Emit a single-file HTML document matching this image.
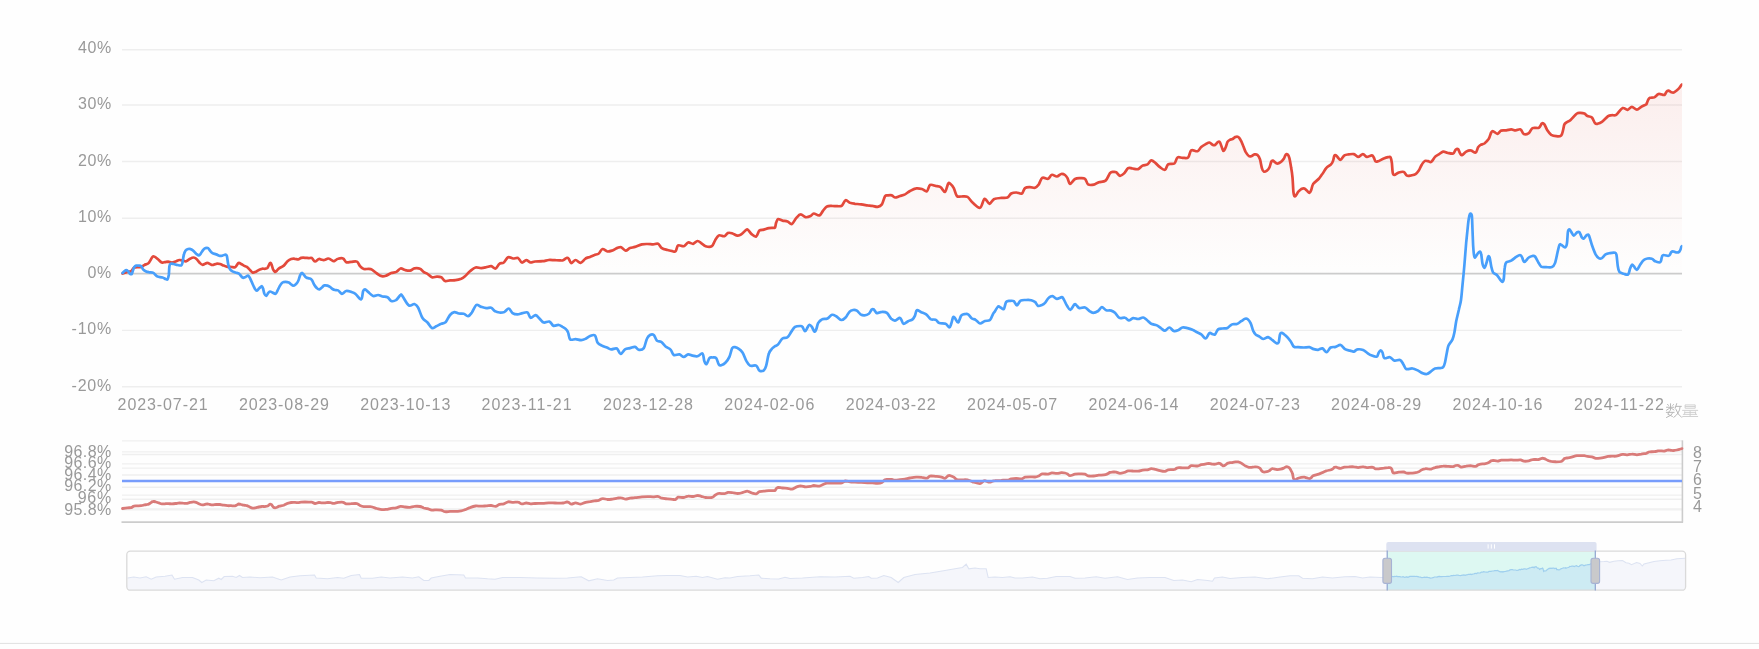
<!DOCTYPE html>
<html><head><meta charset="utf-8"><title>chart</title>
<style>
html,body{margin:0;padding:0;background:#fefefe;}
body{width:1759px;height:649px;overflow:hidden;font-family:"Liberation Sans",sans-serif;}
svg{display:block}
svg g.t{filter:grayscale(1)}
svg text{font-family:"Liberation Sans",sans-serif;font-size:16px;fill:#999999}
</style></head><body>
<svg width="1759" height="649" viewBox="0 0 1759 649">
<defs>
<linearGradient id="rg" x1="0" y1="85" x2="0" y2="280" gradientUnits="userSpaceOnUse">
<stop offset="0" stop-color="#e0483a" stop-opacity="0.088"/><stop offset="1" stop-color="#e0483a" stop-opacity="0"/></linearGradient>
<clipPath id="gc"><rect x="120.6" y="40" width="1561.7" height="350"/></clipPath>
</defs>
<rect x="0" y="0" width="1759" height="649" fill="#fefefe"/>
<g stroke="#eeeeee" stroke-width="1.4">
<line x1="122.0" y1="49.7" x2="1682.0" y2="49.7"/>
<line x1="122.0" y1="105.0" x2="1682.0" y2="105.0"/>
<line x1="122.0" y1="161.5" x2="1682.0" y2="161.5"/>
<line x1="122.0" y1="218.3" x2="1682.0" y2="218.3"/>
<line x1="122.0" y1="330.4" x2="1682.0" y2="330.4"/>
<line x1="122.0" y1="386.8" x2="1682.0" y2="386.8"/>
</g>
<path fill="url(#rg)" d="M122.0,273.6L122.5,273.5C123.3,273.2 126.0,272.3 127.5,271.9C129.0,271.5 130.2,271.9 131.2,271.2C132.3,270.6 132.8,268.4 133.8,267.8C134.7,267.1 135.6,267.4 136.9,267.2C138.1,267.1 140.0,267.3 141.2,266.9C142.5,266.5 143.2,265.6 144.4,265.0C145.5,264.4 147.1,264.3 148.1,263.5C149.2,262.7 149.9,261.1 150.6,260.0C151.3,258.9 151.9,257.5 152.5,256.9C153.1,256.3 153.4,256.4 154.0,256.5C154.6,256.6 155.5,257.2 156.2,257.8C157.0,258.3 157.8,259.2 158.8,260.0C159.7,260.8 160.8,262.1 161.9,262.5C162.9,262.9 164.0,262.3 165.0,262.1C166.0,262.0 167.0,261.6 168.1,261.6C169.3,261.7 170.6,262.5 171.9,262.5C173.1,262.5 174.4,261.9 175.6,261.5C176.9,261.1 178.1,260.1 179.4,260.0C180.6,259.9 182.0,260.4 183.1,260.6C184.3,260.8 185.1,261.6 186.2,261.2C187.4,260.9 188.8,259.4 190.0,258.8C191.2,258.1 192.7,257.5 193.8,257.5C194.8,257.5 195.2,257.8 196.2,258.8C197.3,259.7 199.0,262.1 200.0,263.1C201.0,264.1 201.7,264.6 202.5,264.8C203.3,264.9 204.2,264.1 205.0,263.8C205.8,263.4 206.7,262.7 207.5,262.8C208.3,262.8 209.2,263.6 210.0,264.0C210.8,264.4 211.5,265.0 212.5,265.0C213.5,265.0 215.0,263.9 216.2,263.8C217.5,263.6 218.8,263.7 220.0,264.0C221.2,264.3 222.5,265.1 223.8,265.6C225.0,266.1 226.2,266.7 227.5,266.9C228.8,267.1 230.0,266.8 231.2,266.9C232.5,266.9 234.1,267.6 235.0,267.2C235.9,266.9 236.3,265.8 236.9,265.0C237.5,264.2 238.0,262.9 238.8,262.8C239.5,262.6 240.4,263.5 241.2,264.0C242.1,264.5 242.8,265.1 243.8,265.6C244.7,266.1 245.9,266.3 246.9,266.9C247.8,267.5 248.4,268.4 249.4,269.4C250.3,270.3 251.5,272.1 252.5,272.5C253.5,272.9 254.6,272.3 255.6,271.9C256.7,271.5 257.7,270.5 258.8,270.0C259.8,269.5 260.8,269.0 261.9,268.8C262.9,268.5 264.1,268.9 265.0,268.8C265.9,268.6 266.7,268.7 267.5,267.8C268.3,266.8 269.3,263.7 270.0,263.1C270.7,262.6 271.0,263.3 271.5,264.4C272.0,265.4 272.5,268.1 273.1,269.4C273.7,270.6 274.4,271.7 275.0,271.9C275.6,272.1 276.1,271.2 276.9,270.6C277.6,270.0 278.2,269.0 279.4,268.1C280.5,267.3 282.4,266.8 283.8,265.6C285.1,264.5 286.2,262.4 287.5,261.2C288.8,260.1 290.0,259.4 291.2,259.0C292.5,258.6 293.9,258.7 295.0,258.8C296.1,258.8 297.1,259.5 298.1,259.4C299.2,259.2 300.1,258.2 301.2,257.9C302.4,257.6 303.8,257.7 305.0,257.8C306.2,257.8 307.6,258.1 308.8,258.1C309.9,258.2 310.8,257.6 311.9,258.1C312.9,258.7 313.9,261.4 315.0,261.5C316.1,261.6 317.7,259.3 318.8,259.0C319.8,258.7 320.3,259.5 321.2,259.6C322.2,259.8 323.2,260.2 324.4,260.0C325.5,259.8 327.1,258.6 328.1,258.5C329.2,258.4 329.8,259.0 330.6,259.4C331.5,259.8 332.4,260.8 333.1,261.0C333.9,261.2 334.2,261.0 335.0,260.6C335.8,260.2 336.8,259.1 338.1,258.8C339.5,258.4 341.8,257.9 343.1,258.5C344.5,259.1 344.9,261.7 346.2,262.2C347.6,262.8 349.5,262.0 351.2,261.9C353.0,261.8 355.4,260.9 356.9,261.6C358.3,262.3 358.9,265.0 360.0,266.2C361.1,267.5 362.0,268.5 363.8,269.0C365.5,269.5 368.4,268.4 370.6,269.1C372.8,269.9 375.0,272.3 376.9,273.5C378.8,274.7 380.3,275.9 381.9,276.2C383.4,276.6 384.7,276.1 386.2,275.6C387.8,275.1 389.6,273.7 391.2,273.1C392.9,272.5 394.7,272.6 396.2,271.9C397.8,271.1 399.2,268.8 400.6,268.5C402.1,268.2 403.4,269.6 405.0,270.0C406.6,270.4 408.4,270.9 410.0,270.6C411.6,270.4 412.7,268.7 414.4,268.4C416.0,268.1 418.4,268.1 420.0,268.8C421.6,269.4 422.5,271.4 423.8,272.2C425.0,273.1 426.1,272.9 427.5,273.8C428.9,274.6 430.3,276.8 431.9,277.2C433.4,277.7 435.3,276.6 436.9,276.6C438.4,276.6 439.9,276.5 441.2,277.2C442.6,278.0 443.5,280.5 445.0,281.0C446.5,281.5 448.2,280.5 450.0,280.4C451.8,280.3 453.7,280.5 455.6,280.2C457.5,280.0 459.7,279.4 461.2,278.8C462.8,278.1 463.5,277.5 465.0,276.2C466.5,275.0 468.2,272.7 470.0,271.2C471.8,269.8 473.7,268.0 475.6,267.5C477.5,267.0 479.5,268.2 481.2,268.1C483.0,268.1 484.6,267.6 486.2,267.2C487.9,266.9 489.7,266.0 491.2,266.2C492.8,266.5 494.3,268.9 495.6,268.5C497.0,268.1 498.0,264.8 499.4,263.8C500.7,262.8 502.3,263.6 503.8,262.5C505.2,261.4 506.6,257.9 508.1,257.2C509.7,256.6 511.5,258.4 513.1,258.5C514.8,258.6 516.7,257.5 518.1,258.1C519.6,258.8 520.5,262.1 521.9,262.5C523.2,262.9 524.8,260.2 526.2,260.2C527.7,260.2 529.2,262.3 530.6,262.5C532.1,262.7 533.0,261.7 535.0,261.5C537.0,261.3 540.2,261.5 542.5,261.2C544.8,261.0 546.7,260.2 548.8,260.0C550.8,259.8 553.2,260.2 555.0,260.2C556.8,260.3 558.0,260.4 559.4,260.4C560.7,260.4 561.9,260.7 563.1,260.2C564.4,259.8 565.9,258.0 566.9,257.8C567.8,257.5 568.0,257.9 568.8,258.8C569.5,259.6 570.1,262.9 571.2,263.1C572.4,263.3 574.1,260.0 575.6,260.0C577.2,260.0 579.0,263.1 580.6,262.9C582.3,262.6 584.1,259.5 585.6,258.5C587.2,257.5 588.5,257.5 590.0,256.9C591.5,256.3 592.9,255.6 594.4,255.0C595.8,254.4 597.4,254.5 598.8,253.5C600.1,252.5 601.0,249.3 602.5,249.0C604.0,248.7 605.8,251.3 607.5,251.5C609.2,251.7 610.8,251.0 612.5,250.4C614.2,249.8 616.0,248.4 617.5,247.9C619.0,247.4 619.9,246.8 621.2,247.2C622.6,247.7 624.2,250.5 625.6,250.6C627.1,250.8 628.4,248.7 630.0,248.1C631.6,247.5 633.0,247.5 635.0,246.9C637.0,246.3 639.8,244.9 641.9,244.4C644.0,243.9 645.6,244.0 647.5,244.0C649.4,244.0 651.4,244.4 653.1,244.4C654.9,244.3 656.7,243.1 658.1,243.8C659.6,244.4 660.3,247.1 661.9,248.1C663.4,249.2 665.7,249.5 667.5,250.0C669.3,250.5 671.1,251.0 672.5,251.2C673.9,251.5 674.7,252.2 675.6,251.2C676.6,250.3 676.8,246.2 678.1,245.4C679.5,244.5 682.1,246.7 683.8,246.2C685.4,245.8 686.6,242.9 688.1,242.5C689.7,242.1 691.6,244.0 693.1,243.8C694.7,243.5 696.1,241.1 697.5,241.0C698.9,240.9 699.9,242.2 701.2,243.1C702.6,244.0 703.8,245.7 705.6,246.2C707.4,246.8 710.3,247.2 711.9,246.2C713.4,245.3 713.9,242.4 715.0,240.6C716.1,238.8 717.2,236.1 718.8,235.4C720.3,234.7 722.8,236.7 724.4,236.2C725.9,235.8 726.8,233.3 728.1,232.9C729.5,232.4 730.9,233.0 732.5,233.5C734.1,234.0 736.0,235.5 737.5,235.6C739.0,235.8 739.8,235.4 741.2,234.4C742.7,233.4 745.1,230.5 746.2,229.8C747.4,229.0 747.2,229.2 748.1,230.0C749.1,230.8 750.5,233.3 751.9,234.4C753.2,235.5 755.0,237.1 756.2,236.5C757.5,235.9 758.1,231.8 759.4,230.6C760.6,229.5 762.2,230.0 763.8,229.6C765.3,229.2 767.2,228.4 768.8,228.1C770.3,227.8 772.1,227.9 773.1,227.8C774.2,227.6 774.5,228.4 775.0,227.5C775.5,226.6 775.7,223.9 776.2,222.5C776.8,221.1 777.1,219.3 778.1,219.0C779.2,218.7 780.9,220.2 782.5,220.6C784.1,221.0 785.9,220.9 787.5,221.5C789.1,222.1 790.4,224.6 791.9,224.0C793.3,223.4 794.8,219.7 796.2,218.1C797.7,216.5 799.1,214.5 800.6,214.4C802.2,214.2 804.0,217.0 805.6,217.2C807.3,217.5 809.3,216.6 810.6,216.0C812.0,215.4 812.3,213.6 813.8,213.5C815.2,213.4 817.8,215.9 819.4,215.4C820.9,214.9 821.9,212.1 823.1,210.6C824.4,209.1 825.3,207.3 826.9,206.5C828.4,205.7 830.7,206.0 832.5,206.0C834.3,206.0 835.9,206.3 837.5,206.2C839.1,206.2 840.5,206.6 841.9,205.6C843.2,204.6 844.3,200.7 845.6,200.2C847.0,199.8 848.4,202.2 850.0,202.8C851.6,203.3 853.1,203.5 855.0,203.8C856.9,204.0 859.2,204.1 861.2,204.4C863.3,204.7 865.6,205.1 867.5,205.4C869.4,205.6 870.8,205.6 872.5,205.9C874.2,206.1 875.9,207.1 877.5,206.9C879.1,206.6 880.6,206.2 881.9,204.4C883.1,202.6 884.0,197.8 885.0,196.2C886.0,194.8 887.0,195.5 888.1,195.4C889.3,195.2 890.7,195.0 891.9,195.4C893.0,195.7 893.6,197.4 895.0,197.5C896.4,197.6 898.3,196.5 900.0,196.0C901.7,195.5 903.3,195.2 905.0,194.4C906.7,193.5 908.1,192.0 910.0,191.0C911.9,190.0 914.3,188.7 916.2,188.4C918.2,188.0 920.1,188.5 921.9,189.0C923.7,189.5 925.5,191.9 926.9,191.2C928.2,190.6 928.5,185.9 930.0,185.0C931.5,184.1 933.9,185.5 935.6,185.9C937.4,186.2 939.1,186.1 940.6,187.1C942.2,188.1 943.8,192.4 945.0,191.9C946.2,191.3 947.3,185.1 948.1,183.8C949.0,182.4 949.1,182.8 950.0,183.5C950.9,184.2 952.6,186.0 953.8,188.1C954.9,190.2 955.6,194.6 956.9,196.0C958.1,197.4 959.5,196.4 961.2,196.5C963.0,196.6 965.6,195.9 967.5,196.9C969.4,197.9 970.4,200.7 972.5,202.5C974.6,204.3 978.1,208.2 980.0,207.8C981.9,207.3 982.8,201.1 983.8,199.8C984.7,198.4 984.7,198.7 985.6,199.4C986.6,200.0 988.2,203.5 989.4,203.8C990.5,204.0 991.6,201.5 992.5,200.6C993.4,199.8 993.5,199.2 995.0,198.8C996.5,198.3 999.2,198.1 1001.2,197.9C1003.3,197.7 1005.8,198.2 1007.5,197.5C1009.2,196.8 1009.8,194.3 1011.2,193.5C1012.7,192.7 1014.5,192.5 1016.2,192.5C1018.0,192.5 1020.4,194.2 1021.9,193.5C1023.3,192.8 1023.6,189.2 1025.0,188.1C1026.4,187.1 1028.3,187.2 1030.0,187.1C1031.7,187.1 1033.5,188.2 1035.0,187.8C1036.5,187.3 1037.5,186.0 1038.8,184.4C1040.0,182.7 1040.7,178.8 1042.2,177.9C1043.8,176.9 1046.5,179.3 1048.1,178.8C1049.7,178.2 1050.4,175.1 1051.9,174.8C1053.3,174.4 1055.3,176.6 1056.9,176.5C1058.4,176.4 1059.9,174.2 1061.2,174.0C1062.6,173.8 1064.0,174.3 1065.0,175.0C1066.0,175.7 1066.7,176.7 1067.5,178.1C1068.3,179.6 1068.8,183.6 1070.0,183.8C1071.2,183.9 1073.3,179.9 1075.0,179.0C1076.7,178.1 1078.3,178.2 1080.0,178.1C1081.7,178.1 1083.6,177.7 1085.0,178.8C1086.4,179.8 1086.7,183.4 1088.1,184.4C1089.6,185.4 1092.0,185.0 1093.8,184.6C1095.5,184.3 1096.8,182.9 1098.8,182.2C1100.7,181.6 1103.7,182.1 1105.6,180.6C1107.5,179.1 1108.8,174.6 1110.0,173.1C1111.2,171.7 1112.1,172.0 1113.1,171.9C1114.2,171.7 1115.1,171.6 1116.2,172.2C1117.4,172.9 1118.6,175.7 1120.0,175.9C1121.4,176.0 1123.0,174.4 1124.4,173.1C1125.7,171.8 1126.8,168.9 1128.1,168.1C1129.5,167.3 1130.8,168.3 1132.5,168.5C1134.2,168.7 1136.5,169.6 1138.1,169.1C1139.8,168.6 1140.9,166.4 1142.5,165.6C1144.1,164.8 1146.0,165.3 1147.5,164.4C1149.0,163.5 1149.9,160.6 1151.2,160.4C1152.6,160.2 1154.2,162.0 1155.6,163.1C1157.1,164.3 1158.4,166.1 1160.0,167.2C1161.6,168.4 1163.6,170.2 1165.0,169.8C1166.4,169.3 1166.6,165.4 1168.1,164.4C1169.7,163.3 1172.8,164.6 1174.4,163.5C1175.9,162.4 1176.1,158.5 1177.5,157.5C1178.9,156.5 1180.7,157.8 1182.5,157.8C1184.3,157.8 1186.7,158.7 1188.1,157.5C1189.6,156.3 1189.7,151.4 1191.2,150.4C1192.8,149.3 1195.8,151.8 1197.5,151.2C1199.2,150.7 1199.8,148.1 1201.2,146.9C1202.7,145.6 1204.9,144.5 1206.2,143.8C1207.6,143.0 1208.3,142.3 1209.4,142.5C1210.4,142.7 1211.6,144.3 1212.5,144.8C1213.4,145.2 1214.1,145.5 1215.0,145.0C1215.9,144.5 1217.3,142.3 1218.1,141.9C1219.0,141.5 1219.4,141.6 1220.0,142.5C1220.6,143.4 1221.3,146.1 1221.9,147.5C1222.5,148.9 1222.9,151.0 1223.5,151.0C1224.1,151.0 1225.0,149.0 1225.6,147.5C1226.3,146.0 1226.8,143.2 1227.5,141.9C1228.2,140.6 1229.2,140.2 1230.0,139.8C1230.8,139.3 1231.6,139.5 1232.5,139.0C1233.4,138.5 1234.7,137.2 1235.6,136.9C1236.6,136.5 1237.3,136.4 1238.1,136.9C1239.0,137.4 1239.8,138.5 1240.6,140.0C1241.5,141.5 1242.3,143.6 1243.1,145.6C1244.0,147.6 1244.7,150.2 1245.6,151.9C1246.6,153.6 1247.8,155.3 1248.8,156.0C1249.7,156.7 1250.3,156.5 1251.2,156.2C1252.2,156.0 1253.3,154.6 1254.4,154.4C1255.4,154.2 1256.6,154.2 1257.5,155.0C1258.4,155.8 1259.3,157.2 1260.0,159.4C1260.7,161.6 1261.3,166.1 1261.9,168.1C1262.5,170.2 1262.9,171.2 1263.8,171.6C1264.6,172.0 1265.9,171.3 1266.9,170.6C1267.8,169.9 1268.7,169.0 1269.4,167.5C1270.1,166.0 1270.7,163.0 1271.2,161.9C1271.8,160.7 1271.9,160.3 1272.9,160.6C1273.8,160.9 1275.6,163.2 1276.9,163.5C1278.2,163.8 1279.5,163.0 1280.6,162.2C1281.8,161.5 1282.9,160.0 1283.8,158.8C1284.6,157.5 1285.0,155.5 1285.6,154.8C1286.2,154.0 1286.9,153.8 1287.5,154.4C1288.1,154.9 1288.8,155.8 1289.4,158.1C1290.0,160.4 1290.7,164.9 1291.2,168.1C1291.8,171.3 1292.1,173.4 1292.5,177.5C1292.9,181.6 1293.1,189.3 1293.5,192.5C1293.9,195.7 1294.2,196.6 1295.0,196.5C1295.8,196.4 1297.1,193.1 1298.1,191.9C1299.2,190.7 1300.2,189.7 1301.2,189.1C1302.3,188.6 1303.4,188.2 1304.4,188.5C1305.3,188.8 1306.0,189.9 1306.9,190.6C1307.7,191.3 1308.7,193.0 1309.4,192.9C1310.1,192.8 1310.6,191.5 1311.2,190.0C1311.9,188.5 1311.9,186.0 1313.1,184.1C1314.4,182.2 1317.2,180.5 1318.8,178.8C1320.3,177.0 1321.2,175.5 1322.5,173.8C1323.8,172.0 1324.8,169.7 1326.2,168.1C1327.7,166.5 1330.1,165.4 1331.2,164.1C1332.4,162.9 1332.6,162.0 1333.1,160.6C1333.6,159.2 1333.9,156.5 1334.4,155.6C1334.9,154.7 1335.6,155.0 1336.2,155.4C1336.9,155.7 1337.4,157.0 1338.1,157.8C1338.8,158.5 1339.6,160.1 1340.6,159.8C1341.7,159.4 1343.0,156.3 1344.4,155.4C1345.7,154.5 1347.2,154.6 1348.8,154.4C1350.3,154.2 1352.2,153.7 1353.8,154.1C1355.3,154.5 1356.8,156.8 1358.1,156.9C1359.5,156.9 1360.9,154.8 1361.9,154.4C1362.8,154.0 1362.9,154.0 1363.8,154.4C1364.6,154.8 1365.5,156.7 1366.9,156.9C1368.2,157.0 1370.7,155.3 1371.9,155.4C1373.0,155.5 1373.1,156.5 1373.8,157.5C1374.4,158.5 1374.8,160.9 1375.6,161.5C1376.5,162.1 1377.4,161.4 1378.8,160.9C1380.1,160.4 1382.2,159.1 1383.8,158.5C1385.3,157.9 1387.0,157.4 1388.1,157.2C1389.3,157.1 1390.0,156.5 1390.6,157.5C1391.2,158.5 1391.5,160.5 1391.9,163.1C1392.2,165.7 1392.3,171.1 1392.8,173.1C1393.2,175.1 1393.4,175.1 1394.4,175.0C1395.4,174.9 1397.2,173.0 1398.8,172.5C1400.3,172.0 1402.4,171.4 1403.8,171.9C1405.1,172.4 1405.6,175.0 1406.9,175.6C1408.1,176.2 1409.8,175.6 1411.2,175.4C1412.7,175.1 1414.4,174.9 1415.6,174.1C1416.9,173.3 1417.7,172.2 1418.8,170.6C1419.8,169.0 1420.8,166.0 1421.9,164.4C1422.9,162.8 1424.0,161.4 1425.0,160.9C1426.0,160.4 1427.1,161.1 1428.1,161.2C1429.2,161.4 1430.1,162.6 1431.2,161.9C1432.4,161.2 1433.8,158.1 1435.0,156.9C1436.2,155.6 1437.4,155.3 1438.8,154.4C1440.1,153.5 1441.7,151.9 1443.1,151.6C1444.6,151.3 1445.8,152.4 1447.5,152.8C1449.2,153.1 1451.8,154.0 1453.1,153.5C1454.5,153.0 1454.8,150.5 1455.6,149.8C1456.5,149.0 1457.4,148.6 1458.1,149.1C1458.8,149.7 1459.4,152.1 1460.0,153.1C1460.6,154.1 1460.8,155.5 1461.9,155.2C1462.9,155.0 1464.8,152.4 1466.2,151.6C1467.7,150.8 1469.1,150.2 1470.6,150.4C1472.2,150.5 1474.4,153.0 1475.6,152.5C1476.9,152.0 1477.3,148.5 1478.1,147.2C1479.0,146.0 1479.6,145.4 1480.6,144.8C1481.7,144.1 1483.0,144.5 1484.4,143.5C1485.7,142.5 1487.6,140.6 1488.8,138.8C1489.9,136.9 1490.5,133.8 1491.2,132.5C1492.0,131.2 1492.1,131.0 1493.1,131.2C1494.2,131.5 1496.1,133.9 1497.5,133.8C1498.9,133.6 1499.8,131.2 1501.2,130.6C1502.7,130.1 1504.6,130.6 1506.2,130.4C1507.9,130.2 1509.7,129.4 1511.2,129.4C1512.8,129.4 1514.1,130.4 1515.6,130.4C1517.2,130.4 1519.3,128.8 1520.6,129.4C1522.0,130.0 1522.4,133.5 1523.8,134.1C1525.1,134.7 1527.3,134.1 1528.8,133.1C1530.2,132.1 1530.8,129.0 1532.5,128.1C1534.2,127.2 1537.2,128.5 1538.8,127.8C1540.3,127.0 1540.9,124.1 1541.9,123.5C1542.8,122.9 1543.4,123.2 1544.4,124.4C1545.3,125.6 1546.4,128.9 1547.5,130.6C1548.6,132.3 1549.8,133.8 1551.2,134.8C1552.7,135.7 1554.6,136.1 1556.2,136.2C1557.9,136.4 1560.1,136.4 1561.2,135.4C1562.4,134.3 1562.6,131.8 1563.1,130.0C1563.6,128.2 1563.8,125.7 1564.4,124.4C1565.0,123.1 1565.8,123.0 1566.9,122.2C1567.9,121.5 1569.0,121.5 1570.6,120.0C1572.3,118.5 1575.2,114.7 1576.9,113.5C1578.5,112.3 1579.4,112.9 1580.6,112.9C1581.9,112.9 1583.2,113.0 1584.4,113.5C1585.5,114.0 1586.2,115.3 1587.5,116.0C1588.8,116.7 1590.6,116.3 1591.9,117.5C1593.1,118.7 1594.1,122.1 1595.0,123.1C1595.9,124.2 1596.4,124.0 1597.5,123.8C1598.6,123.5 1600.1,123.1 1601.9,121.9C1603.7,120.6 1606.5,117.4 1608.1,116.2C1609.8,115.1 1610.5,115.5 1611.9,115.2C1613.2,115.0 1614.5,115.9 1616.2,114.8C1618.0,113.6 1620.6,109.0 1622.5,108.1C1624.4,107.3 1625.9,110.0 1627.5,109.8C1629.1,109.5 1630.3,106.9 1631.9,106.9C1633.4,106.9 1635.3,109.6 1636.9,109.6C1638.4,109.6 1639.7,107.8 1641.2,106.9C1642.8,106.0 1645.3,105.0 1646.2,104.4C1646.9,103.8 1646.5,104.0 1646.9,103.1C1647.2,102.3 1647.9,100.3 1648.4,99.4C1649.0,98.5 1649.0,98.2 1650.0,97.8C1651.0,97.4 1653.1,97.7 1654.4,97.2C1655.6,96.7 1656.7,95.3 1657.5,94.7C1658.3,94.1 1658.3,93.7 1659.4,93.8C1660.4,93.8 1662.8,94.9 1663.8,95.0C1664.7,95.1 1664.5,95.0 1665.0,94.4C1665.5,93.8 1666.0,92.2 1666.6,91.6C1667.1,90.9 1667.7,90.5 1668.4,90.6C1669.2,90.7 1670.4,91.9 1671.2,92.2C1672.1,92.5 1672.8,92.8 1673.8,92.5C1674.7,92.2 1675.9,91.1 1676.9,90.3C1677.8,89.5 1678.7,88.6 1679.4,87.8C1680.1,87.0 1680.8,85.9 1681.2,85.3C1681.7,84.8 1681.9,84.6 1682.0,84.5L1682.0,273.6Z"/>
<line x1="122.0" y1="273.6" x2="1682.0" y2="273.6" stroke="#cccccc" stroke-width="1.6"/>
<g class="t" text-anchor="end">
<text x="111.2" y="52.7" textLength="33.3" lengthAdjust="spacing">40%</text>
<text x="111.2" y="109.0" textLength="33.3" lengthAdjust="spacing">30%</text>
<text x="111.2" y="165.5" textLength="33.3" lengthAdjust="spacing">20%</text>
<text x="111.2" y="222.3" textLength="33.3" lengthAdjust="spacing">10%</text>
<text x="111.2" y="277.6" textLength="23.6" lengthAdjust="spacing">0%</text>
<text x="111.2" y="334.4" textLength="39.6" lengthAdjust="spacing">-10%</text>
<text x="111.2" y="390.8" textLength="39.6" lengthAdjust="spacing">-20%</text>
</g>
<g class="t" text-anchor="middle">
<text x="162.6" y="409.8" textLength="90" lengthAdjust="spacing">2023-07-21</text>
<text x="283.9" y="409.8" textLength="90" lengthAdjust="spacing">2023-08-29</text>
<text x="405.3" y="409.8" textLength="90" lengthAdjust="spacing">2023-10-13</text>
<text x="526.6" y="409.8" textLength="90" lengthAdjust="spacing">2023-11-21</text>
<text x="648.0" y="409.8" textLength="90" lengthAdjust="spacing">2023-12-28</text>
<text x="769.3" y="409.8" textLength="90" lengthAdjust="spacing">2024-02-06</text>
<text x="890.7" y="409.8" textLength="90" lengthAdjust="spacing">2024-03-22</text>
<text x="1012.1" y="409.8" textLength="90" lengthAdjust="spacing">2024-05-07</text>
<text x="1133.4" y="409.8" textLength="90" lengthAdjust="spacing">2024-06-14</text>
<text x="1254.8" y="409.8" textLength="90" lengthAdjust="spacing">2024-07-23</text>
<text x="1376.1" y="409.8" textLength="90" lengthAdjust="spacing">2024-08-29</text>
<text x="1497.5" y="409.8" textLength="90" lengthAdjust="spacing">2024-10-16</text>
<text x="1618.9" y="409.8" textLength="90" lengthAdjust="spacing">2024-11-22</text>
</g>
<path clip-path="url(#gc)" fill="none" stroke="#e3493b" stroke-width="2.7" stroke-linejoin="round" stroke-linecap="round" d="M122.5,273.5C123.3,273.2 126.0,272.3 127.5,271.9C129.0,271.5 130.2,271.9 131.2,271.2C132.3,270.6 132.8,268.4 133.8,267.8C134.7,267.1 135.6,267.4 136.9,267.2C138.1,267.1 140.0,267.3 141.2,266.9C142.5,266.5 143.2,265.6 144.4,265.0C145.5,264.4 147.1,264.3 148.1,263.5C149.2,262.7 149.9,261.1 150.6,260.0C151.3,258.9 151.9,257.5 152.5,256.9C153.1,256.3 153.4,256.4 154.0,256.5C154.6,256.6 155.5,257.2 156.2,257.8C157.0,258.3 157.8,259.2 158.8,260.0C159.7,260.8 160.8,262.1 161.9,262.5C162.9,262.9 164.0,262.3 165.0,262.1C166.0,262.0 167.0,261.6 168.1,261.6C169.3,261.7 170.6,262.5 171.9,262.5C173.1,262.5 174.4,261.9 175.6,261.5C176.9,261.1 178.1,260.1 179.4,260.0C180.6,259.9 182.0,260.4 183.1,260.6C184.3,260.8 185.1,261.6 186.2,261.2C187.4,260.9 188.8,259.4 190.0,258.8C191.2,258.1 192.7,257.5 193.8,257.5C194.8,257.5 195.2,257.8 196.2,258.8C197.3,259.7 199.0,262.1 200.0,263.1C201.0,264.1 201.7,264.6 202.5,264.8C203.3,264.9 204.2,264.1 205.0,263.8C205.8,263.4 206.7,262.7 207.5,262.8C208.3,262.8 209.2,263.6 210.0,264.0C210.8,264.4 211.5,265.0 212.5,265.0C213.5,265.0 215.0,263.9 216.2,263.8C217.5,263.6 218.8,263.7 220.0,264.0C221.2,264.3 222.5,265.1 223.8,265.6C225.0,266.1 226.2,266.7 227.5,266.9C228.8,267.1 230.0,266.8 231.2,266.9C232.5,266.9 234.1,267.6 235.0,267.2C235.9,266.9 236.3,265.8 236.9,265.0C237.5,264.2 238.0,262.9 238.8,262.8C239.5,262.6 240.4,263.5 241.2,264.0C242.1,264.5 242.8,265.1 243.8,265.6C244.7,266.1 245.9,266.3 246.9,266.9C247.8,267.5 248.4,268.4 249.4,269.4C250.3,270.3 251.5,272.1 252.5,272.5C253.5,272.9 254.6,272.3 255.6,271.9C256.7,271.5 257.7,270.5 258.8,270.0C259.8,269.5 260.8,269.0 261.9,268.8C262.9,268.5 264.1,268.9 265.0,268.8C265.9,268.6 266.7,268.7 267.5,267.8C268.3,266.8 269.3,263.7 270.0,263.1C270.7,262.6 271.0,263.3 271.5,264.4C272.0,265.4 272.5,268.1 273.1,269.4C273.7,270.6 274.4,271.7 275.0,271.9C275.6,272.1 276.1,271.2 276.9,270.6C277.6,270.0 278.2,269.0 279.4,268.1C280.5,267.3 282.4,266.8 283.8,265.6C285.1,264.5 286.2,262.4 287.5,261.2C288.8,260.1 290.0,259.4 291.2,259.0C292.5,258.6 293.9,258.7 295.0,258.8C296.1,258.8 297.1,259.5 298.1,259.4C299.2,259.2 300.1,258.2 301.2,257.9C302.4,257.6 303.8,257.7 305.0,257.8C306.2,257.8 307.6,258.1 308.8,258.1C309.9,258.2 310.8,257.6 311.9,258.1C312.9,258.7 313.9,261.4 315.0,261.5C316.1,261.6 317.7,259.3 318.8,259.0C319.8,258.7 320.3,259.5 321.2,259.6C322.2,259.8 323.2,260.2 324.4,260.0C325.5,259.8 327.1,258.6 328.1,258.5C329.2,258.4 329.8,259.0 330.6,259.4C331.5,259.8 332.4,260.8 333.1,261.0C333.9,261.2 334.2,261.0 335.0,260.6C335.8,260.2 336.8,259.1 338.1,258.8C339.5,258.4 341.8,257.9 343.1,258.5C344.5,259.1 344.9,261.7 346.2,262.2C347.6,262.8 349.5,262.0 351.2,261.9C353.0,261.8 355.4,260.9 356.9,261.6C358.3,262.3 358.9,265.0 360.0,266.2C361.1,267.5 362.0,268.5 363.8,269.0C365.5,269.5 368.4,268.4 370.6,269.1C372.8,269.9 375.0,272.3 376.9,273.5C378.8,274.7 380.3,275.9 381.9,276.2C383.4,276.6 384.7,276.1 386.2,275.6C387.8,275.1 389.6,273.7 391.2,273.1C392.9,272.5 394.7,272.6 396.2,271.9C397.8,271.1 399.2,268.8 400.6,268.5C402.1,268.2 403.4,269.6 405.0,270.0C406.6,270.4 408.4,270.9 410.0,270.6C411.6,270.4 412.7,268.7 414.4,268.4C416.0,268.1 418.4,268.1 420.0,268.8C421.6,269.4 422.5,271.4 423.8,272.2C425.0,273.1 426.1,272.9 427.5,273.8C428.9,274.6 430.3,276.8 431.9,277.2C433.4,277.7 435.3,276.6 436.9,276.6C438.4,276.6 439.9,276.5 441.2,277.2C442.6,278.0 443.5,280.5 445.0,281.0C446.5,281.5 448.2,280.5 450.0,280.4C451.8,280.3 453.7,280.5 455.6,280.2C457.5,280.0 459.7,279.4 461.2,278.8C462.8,278.1 463.5,277.5 465.0,276.2C466.5,275.0 468.2,272.7 470.0,271.2C471.8,269.8 473.7,268.0 475.6,267.5C477.5,267.0 479.5,268.2 481.2,268.1C483.0,268.1 484.6,267.6 486.2,267.2C487.9,266.9 489.7,266.0 491.2,266.2C492.8,266.5 494.3,268.9 495.6,268.5C497.0,268.1 498.0,264.8 499.4,263.8C500.7,262.8 502.3,263.6 503.8,262.5C505.2,261.4 506.6,257.9 508.1,257.2C509.7,256.6 511.5,258.4 513.1,258.5C514.8,258.6 516.7,257.5 518.1,258.1C519.6,258.8 520.5,262.1 521.9,262.5C523.2,262.9 524.8,260.2 526.2,260.2C527.7,260.2 529.2,262.3 530.6,262.5C532.1,262.7 533.0,261.7 535.0,261.5C537.0,261.3 540.2,261.5 542.5,261.2C544.8,261.0 546.7,260.2 548.8,260.0C550.8,259.8 553.2,260.2 555.0,260.2C556.8,260.3 558.0,260.4 559.4,260.4C560.7,260.4 561.9,260.7 563.1,260.2C564.4,259.8 565.9,258.0 566.9,257.8C567.8,257.5 568.0,257.9 568.8,258.8C569.5,259.6 570.1,262.9 571.2,263.1C572.4,263.3 574.1,260.0 575.6,260.0C577.2,260.0 579.0,263.1 580.6,262.9C582.3,262.6 584.1,259.5 585.6,258.5C587.2,257.5 588.5,257.5 590.0,256.9C591.5,256.3 592.9,255.6 594.4,255.0C595.8,254.4 597.4,254.5 598.8,253.5C600.1,252.5 601.0,249.3 602.5,249.0C604.0,248.7 605.8,251.3 607.5,251.5C609.2,251.7 610.8,251.0 612.5,250.4C614.2,249.8 616.0,248.4 617.5,247.9C619.0,247.4 619.9,246.8 621.2,247.2C622.6,247.7 624.2,250.5 625.6,250.6C627.1,250.8 628.4,248.7 630.0,248.1C631.6,247.5 633.0,247.5 635.0,246.9C637.0,246.3 639.8,244.9 641.9,244.4C644.0,243.9 645.6,244.0 647.5,244.0C649.4,244.0 651.4,244.4 653.1,244.4C654.9,244.3 656.7,243.1 658.1,243.8C659.6,244.4 660.3,247.1 661.9,248.1C663.4,249.2 665.7,249.5 667.5,250.0C669.3,250.5 671.1,251.0 672.5,251.2C673.9,251.5 674.7,252.2 675.6,251.2C676.6,250.3 676.8,246.2 678.1,245.4C679.5,244.5 682.1,246.7 683.8,246.2C685.4,245.8 686.6,242.9 688.1,242.5C689.7,242.1 691.6,244.0 693.1,243.8C694.7,243.5 696.1,241.1 697.5,241.0C698.9,240.9 699.9,242.2 701.2,243.1C702.6,244.0 703.8,245.7 705.6,246.2C707.4,246.8 710.3,247.2 711.9,246.2C713.4,245.3 713.9,242.4 715.0,240.6C716.1,238.8 717.2,236.1 718.8,235.4C720.3,234.7 722.8,236.7 724.4,236.2C725.9,235.8 726.8,233.3 728.1,232.9C729.5,232.4 730.9,233.0 732.5,233.5C734.1,234.0 736.0,235.5 737.5,235.6C739.0,235.8 739.8,235.4 741.2,234.4C742.7,233.4 745.1,230.5 746.2,229.8C747.4,229.0 747.2,229.2 748.1,230.0C749.1,230.8 750.5,233.3 751.9,234.4C753.2,235.5 755.0,237.1 756.2,236.5C757.5,235.9 758.1,231.8 759.4,230.6C760.6,229.5 762.2,230.0 763.8,229.6C765.3,229.2 767.2,228.4 768.8,228.1C770.3,227.8 772.1,227.9 773.1,227.8C774.2,227.6 774.5,228.4 775.0,227.5C775.5,226.6 775.7,223.9 776.2,222.5C776.8,221.1 777.1,219.3 778.1,219.0C779.2,218.7 780.9,220.2 782.5,220.6C784.1,221.0 785.9,220.9 787.5,221.5C789.1,222.1 790.4,224.6 791.9,224.0C793.3,223.4 794.8,219.7 796.2,218.1C797.7,216.5 799.1,214.5 800.6,214.4C802.2,214.2 804.0,217.0 805.6,217.2C807.3,217.5 809.3,216.6 810.6,216.0C812.0,215.4 812.3,213.6 813.8,213.5C815.2,213.4 817.8,215.9 819.4,215.4C820.9,214.9 821.9,212.1 823.1,210.6C824.4,209.1 825.3,207.3 826.9,206.5C828.4,205.7 830.7,206.0 832.5,206.0C834.3,206.0 835.9,206.3 837.5,206.2C839.1,206.2 840.5,206.6 841.9,205.6C843.2,204.6 844.3,200.7 845.6,200.2C847.0,199.8 848.4,202.2 850.0,202.8C851.6,203.3 853.1,203.5 855.0,203.8C856.9,204.0 859.2,204.1 861.2,204.4C863.3,204.7 865.6,205.1 867.5,205.4C869.4,205.6 870.8,205.6 872.5,205.9C874.2,206.1 875.9,207.1 877.5,206.9C879.1,206.6 880.6,206.2 881.9,204.4C883.1,202.6 884.0,197.8 885.0,196.2C886.0,194.8 887.0,195.5 888.1,195.4C889.3,195.2 890.7,195.0 891.9,195.4C893.0,195.7 893.6,197.4 895.0,197.5C896.4,197.6 898.3,196.5 900.0,196.0C901.7,195.5 903.3,195.2 905.0,194.4C906.7,193.5 908.1,192.0 910.0,191.0C911.9,190.0 914.3,188.7 916.2,188.4C918.2,188.0 920.1,188.5 921.9,189.0C923.7,189.5 925.5,191.9 926.9,191.2C928.2,190.6 928.5,185.9 930.0,185.0C931.5,184.1 933.9,185.5 935.6,185.9C937.4,186.2 939.1,186.1 940.6,187.1C942.2,188.1 943.8,192.4 945.0,191.9C946.2,191.3 947.3,185.1 948.1,183.8C949.0,182.4 949.1,182.8 950.0,183.5C950.9,184.2 952.6,186.0 953.8,188.1C954.9,190.2 955.6,194.6 956.9,196.0C958.1,197.4 959.5,196.4 961.2,196.5C963.0,196.6 965.6,195.9 967.5,196.9C969.4,197.9 970.4,200.7 972.5,202.5C974.6,204.3 978.1,208.2 980.0,207.8C981.9,207.3 982.8,201.1 983.8,199.8C984.7,198.4 984.7,198.7 985.6,199.4C986.6,200.0 988.2,203.5 989.4,203.8C990.5,204.0 991.6,201.5 992.5,200.6C993.4,199.8 993.5,199.2 995.0,198.8C996.5,198.3 999.2,198.1 1001.2,197.9C1003.3,197.7 1005.8,198.2 1007.5,197.5C1009.2,196.8 1009.8,194.3 1011.2,193.5C1012.7,192.7 1014.5,192.5 1016.2,192.5C1018.0,192.5 1020.4,194.2 1021.9,193.5C1023.3,192.8 1023.6,189.2 1025.0,188.1C1026.4,187.1 1028.3,187.2 1030.0,187.1C1031.7,187.1 1033.5,188.2 1035.0,187.8C1036.5,187.3 1037.5,186.0 1038.8,184.4C1040.0,182.7 1040.7,178.8 1042.2,177.9C1043.8,176.9 1046.5,179.3 1048.1,178.8C1049.7,178.2 1050.4,175.1 1051.9,174.8C1053.3,174.4 1055.3,176.6 1056.9,176.5C1058.4,176.4 1059.9,174.2 1061.2,174.0C1062.6,173.8 1064.0,174.3 1065.0,175.0C1066.0,175.7 1066.7,176.7 1067.5,178.1C1068.3,179.6 1068.8,183.6 1070.0,183.8C1071.2,183.9 1073.3,179.9 1075.0,179.0C1076.7,178.1 1078.3,178.2 1080.0,178.1C1081.7,178.1 1083.6,177.7 1085.0,178.8C1086.4,179.8 1086.7,183.4 1088.1,184.4C1089.6,185.4 1092.0,185.0 1093.8,184.6C1095.5,184.3 1096.8,182.9 1098.8,182.2C1100.7,181.6 1103.7,182.1 1105.6,180.6C1107.5,179.1 1108.8,174.6 1110.0,173.1C1111.2,171.7 1112.1,172.0 1113.1,171.9C1114.2,171.7 1115.1,171.6 1116.2,172.2C1117.4,172.9 1118.6,175.7 1120.0,175.9C1121.4,176.0 1123.0,174.4 1124.4,173.1C1125.7,171.8 1126.8,168.9 1128.1,168.1C1129.5,167.3 1130.8,168.3 1132.5,168.5C1134.2,168.7 1136.5,169.6 1138.1,169.1C1139.8,168.6 1140.9,166.4 1142.5,165.6C1144.1,164.8 1146.0,165.3 1147.5,164.4C1149.0,163.5 1149.9,160.6 1151.2,160.4C1152.6,160.2 1154.2,162.0 1155.6,163.1C1157.1,164.3 1158.4,166.1 1160.0,167.2C1161.6,168.4 1163.6,170.2 1165.0,169.8C1166.4,169.3 1166.6,165.4 1168.1,164.4C1169.7,163.3 1172.8,164.6 1174.4,163.5C1175.9,162.4 1176.1,158.5 1177.5,157.5C1178.9,156.5 1180.7,157.8 1182.5,157.8C1184.3,157.8 1186.7,158.7 1188.1,157.5C1189.6,156.3 1189.7,151.4 1191.2,150.4C1192.8,149.3 1195.8,151.8 1197.5,151.2C1199.2,150.7 1199.8,148.1 1201.2,146.9C1202.7,145.6 1204.9,144.5 1206.2,143.8C1207.6,143.0 1208.3,142.3 1209.4,142.5C1210.4,142.7 1211.6,144.3 1212.5,144.8C1213.4,145.2 1214.1,145.5 1215.0,145.0C1215.9,144.5 1217.3,142.3 1218.1,141.9C1219.0,141.5 1219.4,141.6 1220.0,142.5C1220.6,143.4 1221.3,146.1 1221.9,147.5C1222.5,148.9 1222.9,151.0 1223.5,151.0C1224.1,151.0 1225.0,149.0 1225.6,147.5C1226.3,146.0 1226.8,143.2 1227.5,141.9C1228.2,140.6 1229.2,140.2 1230.0,139.8C1230.8,139.3 1231.6,139.5 1232.5,139.0C1233.4,138.5 1234.7,137.2 1235.6,136.9C1236.6,136.5 1237.3,136.4 1238.1,136.9C1239.0,137.4 1239.8,138.5 1240.6,140.0C1241.5,141.5 1242.3,143.6 1243.1,145.6C1244.0,147.6 1244.7,150.2 1245.6,151.9C1246.6,153.6 1247.8,155.3 1248.8,156.0C1249.7,156.7 1250.3,156.5 1251.2,156.2C1252.2,156.0 1253.3,154.6 1254.4,154.4C1255.4,154.2 1256.6,154.2 1257.5,155.0C1258.4,155.8 1259.3,157.2 1260.0,159.4C1260.7,161.6 1261.3,166.1 1261.9,168.1C1262.5,170.2 1262.9,171.2 1263.8,171.6C1264.6,172.0 1265.9,171.3 1266.9,170.6C1267.8,169.9 1268.7,169.0 1269.4,167.5C1270.1,166.0 1270.7,163.0 1271.2,161.9C1271.8,160.7 1271.9,160.3 1272.9,160.6C1273.8,160.9 1275.6,163.2 1276.9,163.5C1278.2,163.8 1279.5,163.0 1280.6,162.2C1281.8,161.5 1282.9,160.0 1283.8,158.8C1284.6,157.5 1285.0,155.5 1285.6,154.8C1286.2,154.0 1286.9,153.8 1287.5,154.4C1288.1,154.9 1288.8,155.8 1289.4,158.1C1290.0,160.4 1290.7,164.9 1291.2,168.1C1291.8,171.3 1292.1,173.4 1292.5,177.5C1292.9,181.6 1293.1,189.3 1293.5,192.5C1293.9,195.7 1294.2,196.6 1295.0,196.5C1295.8,196.4 1297.1,193.1 1298.1,191.9C1299.2,190.7 1300.2,189.7 1301.2,189.1C1302.3,188.6 1303.4,188.2 1304.4,188.5C1305.3,188.8 1306.0,189.9 1306.9,190.6C1307.7,191.3 1308.7,193.0 1309.4,192.9C1310.1,192.8 1310.6,191.5 1311.2,190.0C1311.9,188.5 1311.9,186.0 1313.1,184.1C1314.4,182.2 1317.2,180.5 1318.8,178.8C1320.3,177.0 1321.2,175.5 1322.5,173.8C1323.8,172.0 1324.8,169.7 1326.2,168.1C1327.7,166.5 1330.1,165.4 1331.2,164.1C1332.4,162.9 1332.6,162.0 1333.1,160.6C1333.6,159.2 1333.9,156.5 1334.4,155.6C1334.9,154.7 1335.6,155.0 1336.2,155.4C1336.9,155.7 1337.4,157.0 1338.1,157.8C1338.8,158.5 1339.6,160.1 1340.6,159.8C1341.7,159.4 1343.0,156.3 1344.4,155.4C1345.7,154.5 1347.2,154.6 1348.8,154.4C1350.3,154.2 1352.2,153.7 1353.8,154.1C1355.3,154.5 1356.8,156.8 1358.1,156.9C1359.5,156.9 1360.9,154.8 1361.9,154.4C1362.8,154.0 1362.9,154.0 1363.8,154.4C1364.6,154.8 1365.5,156.7 1366.9,156.9C1368.2,157.0 1370.7,155.3 1371.9,155.4C1373.0,155.5 1373.1,156.5 1373.8,157.5C1374.4,158.5 1374.8,160.9 1375.6,161.5C1376.5,162.1 1377.4,161.4 1378.8,160.9C1380.1,160.4 1382.2,159.1 1383.8,158.5C1385.3,157.9 1387.0,157.4 1388.1,157.2C1389.3,157.1 1390.0,156.5 1390.6,157.5C1391.2,158.5 1391.5,160.5 1391.9,163.1C1392.2,165.7 1392.3,171.1 1392.8,173.1C1393.2,175.1 1393.4,175.1 1394.4,175.0C1395.4,174.9 1397.2,173.0 1398.8,172.5C1400.3,172.0 1402.4,171.4 1403.8,171.9C1405.1,172.4 1405.6,175.0 1406.9,175.6C1408.1,176.2 1409.8,175.6 1411.2,175.4C1412.7,175.1 1414.4,174.9 1415.6,174.1C1416.9,173.3 1417.7,172.2 1418.8,170.6C1419.8,169.0 1420.8,166.0 1421.9,164.4C1422.9,162.8 1424.0,161.4 1425.0,160.9C1426.0,160.4 1427.1,161.1 1428.1,161.2C1429.2,161.4 1430.1,162.6 1431.2,161.9C1432.4,161.2 1433.8,158.1 1435.0,156.9C1436.2,155.6 1437.4,155.3 1438.8,154.4C1440.1,153.5 1441.7,151.9 1443.1,151.6C1444.6,151.3 1445.8,152.4 1447.5,152.8C1449.2,153.1 1451.8,154.0 1453.1,153.5C1454.5,153.0 1454.8,150.5 1455.6,149.8C1456.5,149.0 1457.4,148.6 1458.1,149.1C1458.8,149.7 1459.4,152.1 1460.0,153.1C1460.6,154.1 1460.8,155.5 1461.9,155.2C1462.9,155.0 1464.8,152.4 1466.2,151.6C1467.7,150.8 1469.1,150.2 1470.6,150.4C1472.2,150.5 1474.4,153.0 1475.6,152.5C1476.9,152.0 1477.3,148.5 1478.1,147.2C1479.0,146.0 1479.6,145.4 1480.6,144.8C1481.7,144.1 1483.0,144.5 1484.4,143.5C1485.7,142.5 1487.6,140.6 1488.8,138.8C1489.9,136.9 1490.5,133.8 1491.2,132.5C1492.0,131.2 1492.1,131.0 1493.1,131.2C1494.2,131.5 1496.1,133.9 1497.5,133.8C1498.9,133.6 1499.8,131.2 1501.2,130.6C1502.7,130.1 1504.6,130.6 1506.2,130.4C1507.9,130.2 1509.7,129.4 1511.2,129.4C1512.8,129.4 1514.1,130.4 1515.6,130.4C1517.2,130.4 1519.3,128.8 1520.6,129.4C1522.0,130.0 1522.4,133.5 1523.8,134.1C1525.1,134.7 1527.3,134.1 1528.8,133.1C1530.2,132.1 1530.8,129.0 1532.5,128.1C1534.2,127.2 1537.2,128.5 1538.8,127.8C1540.3,127.0 1540.9,124.1 1541.9,123.5C1542.8,122.9 1543.4,123.2 1544.4,124.4C1545.3,125.6 1546.4,128.9 1547.5,130.6C1548.6,132.3 1549.8,133.8 1551.2,134.8C1552.7,135.7 1554.6,136.1 1556.2,136.2C1557.9,136.4 1560.1,136.4 1561.2,135.4C1562.4,134.3 1562.6,131.8 1563.1,130.0C1563.6,128.2 1563.8,125.7 1564.4,124.4C1565.0,123.1 1565.8,123.0 1566.9,122.2C1567.9,121.5 1569.0,121.5 1570.6,120.0C1572.3,118.5 1575.2,114.7 1576.9,113.5C1578.5,112.3 1579.4,112.9 1580.6,112.9C1581.9,112.9 1583.2,113.0 1584.4,113.5C1585.5,114.0 1586.2,115.3 1587.5,116.0C1588.8,116.7 1590.6,116.3 1591.9,117.5C1593.1,118.7 1594.1,122.1 1595.0,123.1C1595.9,124.2 1596.4,124.0 1597.5,123.8C1598.6,123.5 1600.1,123.1 1601.9,121.9C1603.7,120.6 1606.5,117.4 1608.1,116.2C1609.8,115.1 1610.5,115.5 1611.9,115.2C1613.2,115.0 1614.5,115.9 1616.2,114.8C1618.0,113.6 1620.6,109.0 1622.5,108.1C1624.4,107.3 1625.9,110.0 1627.5,109.8C1629.1,109.5 1630.3,106.9 1631.9,106.9C1633.4,106.9 1635.3,109.6 1636.9,109.6C1638.4,109.6 1639.7,107.8 1641.2,106.9C1642.8,106.0 1645.3,105.0 1646.2,104.4C1646.9,103.8 1646.5,104.0 1646.9,103.1C1647.2,102.3 1647.9,100.3 1648.4,99.4C1649.0,98.5 1649.0,98.2 1650.0,97.8C1651.0,97.4 1653.1,97.7 1654.4,97.2C1655.6,96.7 1656.7,95.3 1657.5,94.7C1658.3,94.1 1658.3,93.7 1659.4,93.8C1660.4,93.8 1662.8,94.9 1663.8,95.0C1664.7,95.1 1664.5,95.0 1665.0,94.4C1665.5,93.8 1666.0,92.2 1666.6,91.6C1667.1,90.9 1667.7,90.5 1668.4,90.6C1669.2,90.7 1670.4,91.9 1671.2,92.2C1672.1,92.5 1672.8,92.8 1673.8,92.5C1674.7,92.2 1675.9,91.1 1676.9,90.3C1677.8,89.5 1678.7,88.6 1679.4,87.8C1680.1,87.0 1680.8,85.9 1681.2,85.3C1681.7,84.8 1681.9,84.6 1682.0,84.5"/>
<path clip-path="url(#gc)" fill="none" stroke="#489ffb" stroke-width="2.7" stroke-linejoin="round" stroke-linecap="round" d="M122.5,273.1C122.8,272.8 123.8,271.7 124.4,271.2C125.0,270.8 125.6,270.2 126.2,270.2C126.9,270.2 127.5,270.7 128.1,271.2C128.7,271.8 129.4,273.3 130.0,273.8C130.6,274.2 131.4,274.4 131.9,273.8C132.4,273.1 132.7,271.1 133.1,270.0C133.5,268.9 133.9,267.6 134.4,266.9C134.9,266.1 135.5,265.8 136.2,265.6C137.0,265.4 137.9,265.5 138.8,265.6C139.6,265.7 140.5,265.6 141.2,266.2C142.0,266.9 142.4,268.5 143.1,269.4C143.8,270.2 144.7,270.8 145.6,271.2C146.6,271.7 147.5,272.0 148.8,272.2C150.0,272.5 152.0,272.3 153.1,272.8C154.3,273.2 154.9,274.4 155.6,275.0C156.3,275.6 156.4,276.2 157.5,276.6C158.6,277.0 161.1,277.1 162.5,277.5C163.9,277.9 164.8,278.7 165.6,279.0C166.5,279.3 167.0,280.0 167.5,279.4C168.0,278.7 168.4,277.2 168.8,275.0C169.1,272.8 169.1,268.1 169.4,266.2C169.7,264.4 169.9,264.1 170.6,263.8C171.3,263.4 172.6,263.8 173.8,264.0C174.9,264.2 176.2,264.8 177.5,265.0C178.8,265.2 180.4,265.8 181.2,265.4C182.1,265.0 182.1,264.2 182.5,262.5C182.9,260.8 183.2,257.0 183.8,255.0C184.3,253.0 184.9,251.6 185.6,250.6C186.3,249.6 187.3,249.2 188.1,249.0C189.0,248.8 189.8,248.8 190.6,249.1C191.5,249.4 192.2,249.8 193.1,250.6C194.1,251.4 195.3,253.0 196.2,253.8C197.2,254.5 198.0,255.4 198.8,255.4C199.5,255.4 199.9,254.6 200.6,253.8C201.3,252.9 202.3,250.9 203.1,250.0C204.0,249.1 204.8,248.4 205.6,248.1C206.5,247.8 207.4,247.7 208.1,248.1C208.8,248.5 209.3,249.8 210.0,250.6C210.7,251.5 211.5,252.5 212.5,253.1C213.5,253.7 215.0,253.9 216.2,254.4C217.5,254.8 219.0,255.7 220.0,255.9C221.0,256.1 221.6,255.8 222.5,255.6C223.4,255.4 224.9,254.5 225.6,254.6C226.3,254.7 226.5,254.7 226.9,256.2C227.3,257.8 227.7,261.8 228.1,263.8C228.5,265.7 228.8,266.9 229.4,268.1C230.0,269.3 230.8,270.3 231.9,271.0C232.9,271.7 234.5,272.1 235.6,272.5C236.8,272.9 237.8,272.9 238.8,273.5C239.7,274.1 240.5,275.5 241.2,276.2C242.0,277.0 242.4,277.6 243.1,277.8C243.8,277.9 244.8,277.2 245.6,276.9C246.5,276.5 247.4,275.4 248.1,275.6C248.8,275.8 249.3,276.8 250.0,278.1C250.7,279.5 251.7,281.9 252.5,283.8C253.3,285.6 254.3,287.9 255.0,289.0C255.7,290.1 256.1,290.8 256.9,290.6C257.6,290.5 258.5,288.8 259.4,288.1C260.2,287.4 261.3,286.1 261.9,286.2C262.5,286.4 262.7,287.5 263.1,288.8C263.5,290.0 263.9,292.6 264.4,293.8C264.9,294.9 265.6,296.0 266.2,295.9C266.9,295.8 267.5,293.9 268.1,293.1C268.7,292.4 269.3,291.6 270.0,291.5C270.7,291.4 271.6,292.1 272.5,292.5C273.4,292.9 274.8,294.1 275.6,293.8C276.5,293.4 276.8,292.0 277.5,290.6C278.2,289.3 279.2,287.0 280.0,285.6C280.8,284.3 281.6,283.1 282.5,282.5C283.4,281.9 284.6,281.9 285.6,281.9C286.7,281.9 287.8,282.1 288.8,282.5C289.7,282.9 290.5,283.9 291.2,284.4C292.0,284.9 292.4,285.6 293.1,285.6C293.8,285.6 294.8,285.1 295.6,284.4C296.5,283.7 297.4,282.7 298.1,281.2C298.9,279.8 299.4,277.0 300.0,275.6C300.6,274.2 301.3,273.0 301.9,272.9C302.5,272.7 303.0,274.0 303.8,274.8C304.5,275.5 305.3,276.9 306.2,277.5C307.2,278.1 308.4,278.0 309.4,278.4C310.3,278.8 311.0,278.9 311.9,280.0C312.7,281.1 313.5,283.6 314.4,285.0C315.2,286.4 316.0,287.4 316.9,288.1C317.7,288.9 318.5,289.5 319.4,289.4C320.2,289.3 321.0,288.2 321.9,287.5C322.7,286.8 323.4,285.7 324.4,285.4C325.3,285.1 326.6,285.4 327.5,285.6C328.4,285.9 329.2,286.3 330.0,286.9C330.8,287.4 331.7,288.5 332.5,289.0C333.3,289.5 334.1,289.8 335.0,290.0C335.9,290.2 337.0,289.8 338.1,290.4C339.3,291.0 340.5,293.6 341.9,293.8C343.2,293.9 344.7,291.3 346.2,291.0C347.8,290.7 349.7,291.4 351.2,291.9C352.8,292.4 354.2,292.8 355.6,294.0C357.1,295.2 359.0,298.3 360.0,299.0C361.0,299.7 361.4,299.4 361.9,298.1C362.4,296.8 362.6,292.7 363.1,291.2C363.6,289.8 364.2,289.3 365.0,289.4C365.8,289.5 366.8,290.8 368.1,291.9C369.5,293.0 371.5,295.5 373.1,296.0C374.8,296.5 376.6,294.9 378.1,295.0C379.7,295.1 380.9,296.1 382.5,296.5C384.1,296.9 386.0,296.5 387.5,297.2C389.0,298.0 389.8,300.5 391.2,301.0C392.7,301.5 394.7,301.0 396.2,300.0C397.8,299.0 399.6,295.4 400.6,294.8C401.7,294.1 401.1,294.5 402.5,296.2C403.9,298.0 406.8,304.1 408.8,305.4C410.7,306.7 412.8,303.6 414.4,304.0C415.9,304.4 416.8,305.1 418.1,307.5C419.5,309.9 420.9,315.6 422.5,318.1C424.1,320.6 425.9,320.8 427.5,322.5C429.1,324.2 430.4,327.5 431.9,328.1C433.3,328.7 434.7,327.0 436.2,326.2C437.8,325.5 439.7,324.4 441.2,323.8C442.8,323.1 444.2,323.7 445.6,322.2C447.1,320.8 448.5,316.7 450.0,315.0C451.5,313.3 452.9,312.4 454.4,312.1C455.8,311.9 457.2,313.2 458.8,313.5C460.3,313.8 462.2,313.3 463.8,313.8C465.3,314.2 466.8,316.5 468.1,316.2C469.5,316.0 470.5,314.4 471.9,312.5C473.2,310.6 474.8,306.0 476.2,305.0C477.7,304.0 479.0,306.1 480.6,306.6C482.3,307.1 484.5,307.9 486.2,308.1C488.0,308.3 489.8,307.2 491.2,307.8C492.7,308.3 493.6,310.5 495.0,311.2C496.4,312.0 497.8,312.4 499.4,312.5C500.9,312.6 502.8,312.5 504.4,311.9C505.9,311.2 507.4,308.3 508.8,308.5C510.1,308.7 511.0,312.1 512.5,313.1C514.0,314.1 515.8,314.4 517.5,314.4C519.2,314.4 520.8,313.4 522.5,313.1C524.2,312.8 526.1,311.7 527.5,312.5C528.9,313.3 529.3,317.3 530.6,317.8C532.0,318.2 534.1,315.0 535.6,315.2C537.2,315.5 538.6,317.9 540.0,319.1C541.4,320.3 542.2,322.1 543.8,322.5C545.3,322.9 547.8,321.1 549.4,321.6C550.9,322.1 552.2,325.0 553.1,325.6C554.1,326.3 554.1,325.7 555.0,325.6C555.9,325.5 557.5,324.8 558.8,325.0C560.0,325.2 561.2,326.1 562.5,326.9C563.8,327.6 565.3,328.4 566.2,329.4C567.2,330.3 567.5,330.8 568.1,332.5C568.8,334.2 569.0,338.3 570.2,339.4C571.5,340.5 573.8,339.0 575.6,339.1C577.5,339.3 579.6,340.3 581.2,340.2C582.9,340.2 584.2,339.5 585.6,338.8C587.1,338.0 588.4,336.6 590.0,336.0C591.6,335.4 593.8,334.3 595.0,335.4C596.2,336.5 596.4,340.8 597.5,342.5C598.6,344.2 600.3,344.8 601.9,345.6C603.4,346.5 605.3,346.9 606.9,347.5C608.4,348.1 609.6,349.2 611.2,349.4C612.9,349.5 615.3,347.7 616.9,348.5C618.4,349.3 619.3,353.9 620.6,354.0C622.0,354.1 623.4,350.4 625.0,349.4C626.6,348.4 628.3,348.5 630.0,348.1C631.7,347.7 633.5,346.6 635.0,346.9C636.5,347.2 637.3,349.5 638.8,349.8C640.2,350.0 642.4,350.0 643.8,348.1C645.1,346.3 645.8,340.9 646.9,338.8C647.9,336.6 648.9,335.6 650.0,335.0C651.1,334.4 652.6,334.1 653.8,335.0C654.9,335.9 655.6,339.5 656.9,340.6C658.1,341.8 659.8,340.9 661.2,341.9C662.7,342.9 664.1,345.2 665.6,346.5C667.2,347.8 669.3,348.2 670.6,349.6C672.0,351.0 672.3,354.2 673.8,355.0C675.2,355.8 677.7,354.1 679.4,354.4C681.0,354.7 682.3,356.9 683.8,356.9C685.2,356.9 686.7,354.6 688.1,354.4C689.6,354.2 690.9,355.3 692.5,355.6C694.1,355.9 695.8,356.6 697.5,356.2C699.2,355.9 701.4,352.7 702.5,353.5C703.6,354.3 703.7,359.5 704.4,361.2C705.1,363.0 705.8,364.5 706.6,364.0C707.5,363.5 708.4,359.2 709.4,358.1C710.4,357.0 711.4,357.5 712.5,357.5C713.6,357.5 715.2,357.0 716.2,358.1C717.3,359.3 717.9,363.2 718.8,364.4C719.6,365.6 720.1,365.6 721.2,365.2C722.4,364.9 724.3,363.9 725.6,362.5C727.0,361.1 728.3,359.3 729.4,356.9C730.5,354.5 731.3,349.7 732.2,348.1C733.2,346.5 733.9,347.1 735.0,347.2C736.1,347.4 737.5,347.9 738.8,348.8C740.0,349.6 741.2,350.5 742.5,352.5C743.8,354.5 745.0,358.4 746.2,360.6C747.5,362.8 748.3,364.8 750.0,365.6C751.7,366.5 754.7,364.8 756.2,365.6C757.8,366.5 758.1,369.8 759.4,370.6C760.6,371.4 762.6,371.2 763.8,370.4C764.9,369.5 765.4,368.4 766.2,365.6C767.1,362.8 767.8,356.6 768.8,353.8C769.7,350.9 770.8,350.0 771.9,348.8C772.9,347.5 774.0,347.0 775.0,346.2C776.0,345.5 776.9,345.7 778.1,344.4C779.4,343.1 780.9,339.7 782.5,338.5C784.1,337.3 786.0,338.4 787.5,337.2C789.0,336.1 790.0,333.6 791.2,331.9C792.5,330.2 793.4,327.9 795.0,326.9C796.6,325.9 799.4,326.0 800.6,326.0C801.9,326.0 801.8,326.0 802.5,326.9C803.2,327.8 804.2,331.1 805.0,331.2C805.8,331.4 806.8,328.6 807.5,327.5C808.2,326.4 808.6,324.9 809.4,324.8C810.1,324.6 811.0,325.7 811.9,326.9C812.7,328.0 813.7,331.2 814.4,331.6C815.1,332.0 815.6,330.8 816.2,329.4C816.9,328.0 817.2,324.8 818.1,323.1C819.1,321.5 820.3,320.1 821.9,319.4C823.4,318.6 825.8,319.3 827.5,318.5C829.2,317.7 830.4,315.1 831.9,314.8C833.3,314.4 834.7,315.4 836.2,316.2C837.8,317.1 839.7,319.8 841.2,320.0C842.8,320.2 844.3,318.9 845.6,317.5C847.0,316.1 848.1,313.1 849.4,311.9C850.6,310.6 851.9,310.2 853.1,310.0C854.4,309.8 855.6,309.9 856.9,310.6C858.1,311.4 859.4,313.6 860.6,314.4C861.9,315.2 863.0,315.5 864.4,315.4C865.7,315.3 867.5,314.8 868.8,313.8C870.0,312.8 871.0,310.1 871.9,309.4C872.7,308.7 872.9,308.8 873.8,309.4C874.6,310.0 875.5,312.7 876.9,313.1C878.2,313.5 880.2,311.9 881.9,311.9C883.5,311.8 885.3,311.7 886.9,312.9C888.4,314.0 889.9,317.5 891.2,318.8C892.6,320.0 893.6,320.8 895.0,320.6C896.4,320.5 898.3,318.1 899.4,317.9C900.4,317.7 900.6,318.4 901.2,319.4C901.9,320.4 902.4,323.4 903.5,323.8C904.6,324.1 906.6,322.0 908.1,321.2C909.6,320.5 911.4,320.3 912.5,319.4C913.6,318.4 914.3,317.1 915.0,315.6C915.7,314.1 915.8,310.8 916.9,310.2C917.9,309.7 919.7,311.6 921.2,312.2C922.8,312.9 924.7,313.2 926.2,314.4C927.8,315.5 929.1,318.2 930.6,319.1C932.2,320.0 934.2,319.1 935.6,319.8C937.1,320.4 937.7,322.5 939.4,323.1C941.0,323.8 944.0,323.0 945.6,323.8C947.3,324.5 948.4,327.5 949.4,327.5C950.3,327.5 950.6,325.5 951.2,323.8C951.9,322.0 952.5,318.2 953.1,317.2C953.7,316.3 954.2,317.2 955.0,318.1C955.8,319.0 957.1,322.9 958.1,322.5C959.2,322.1 960.1,317.0 961.2,315.6C962.4,314.2 963.9,314.3 965.0,314.1C966.1,313.9 967.0,313.6 968.1,314.4C969.3,315.1 970.6,317.6 971.9,318.5C973.1,319.4 974.3,318.9 975.6,319.8C977.0,320.6 978.4,323.3 980.0,323.5C981.6,323.7 983.3,321.6 985.0,321.0C986.7,320.4 988.6,321.2 990.0,320.0C991.4,318.8 992.3,315.2 993.1,313.8C994.0,312.3 994.2,312.5 995.0,311.2C995.8,310.0 997.2,307.1 998.1,306.5C999.1,305.9 999.7,307.1 1000.6,307.5C1001.6,307.9 1002.8,309.9 1003.8,309.0C1004.7,308.1 1005.2,303.2 1006.2,301.9C1007.3,300.5 1008.8,301.0 1010.0,300.9C1011.2,300.8 1012.6,300.5 1013.8,301.2C1014.9,302.0 1015.7,305.5 1016.9,305.4C1018.0,305.3 1019.1,301.5 1020.6,300.6C1022.2,299.7 1024.5,300.1 1026.2,300.0C1028.0,299.9 1029.8,299.9 1031.2,300.2C1032.7,300.6 1033.9,300.9 1035.0,301.9C1036.1,302.8 1037.0,305.4 1038.1,305.9C1039.3,306.4 1040.7,305.5 1041.9,305.0C1043.0,304.5 1043.9,304.0 1045.0,302.8C1046.1,301.5 1047.5,298.8 1048.8,297.8C1050.0,296.7 1051.1,296.1 1052.5,296.2C1053.9,296.4 1055.3,298.6 1056.9,298.8C1058.4,298.9 1060.7,297.1 1061.9,297.2C1063.0,297.4 1062.9,298.0 1063.8,299.4C1064.6,300.8 1065.8,303.9 1066.9,305.6C1068.0,307.3 1069.1,310.0 1070.4,309.8C1071.6,309.5 1073.4,305.2 1074.4,304.4C1075.4,303.6 1075.4,304.4 1076.2,305.0C1077.1,305.6 1077.9,307.7 1079.4,308.1C1080.8,308.5 1083.3,307.0 1085.0,307.5C1086.7,308.0 1088.0,310.1 1089.4,311.0C1090.7,311.9 1091.7,312.8 1093.1,312.8C1094.6,312.8 1096.7,311.9 1098.1,311.0C1099.6,310.1 1100.5,307.2 1101.9,307.1C1103.2,307.0 1104.7,309.7 1106.2,310.2C1107.8,310.8 1109.8,310.2 1111.2,310.6C1112.7,311.0 1113.6,311.5 1115.0,312.8C1116.4,314.0 1117.7,317.0 1119.4,317.9C1121.0,318.7 1123.4,317.3 1125.0,317.8C1126.6,318.2 1127.4,320.3 1128.8,320.4C1130.1,320.4 1131.6,318.4 1133.1,318.1C1134.7,317.9 1136.5,319.1 1138.1,319.0C1139.8,318.9 1141.7,317.3 1143.1,317.5C1144.6,317.7 1145.5,319.0 1146.9,320.0C1148.2,321.0 1149.6,322.9 1151.2,323.8C1152.9,324.6 1155.2,324.6 1156.9,325.4C1158.5,326.2 1159.9,327.5 1161.2,328.4C1162.6,329.3 1163.6,330.8 1165.0,330.6C1166.4,330.5 1167.9,327.4 1169.4,327.5C1170.8,327.6 1172.3,330.5 1173.8,331.0C1175.2,331.5 1176.7,330.8 1178.1,330.2C1179.6,329.7 1180.9,327.9 1182.5,327.5C1184.1,327.1 1185.8,327.7 1187.5,328.1C1189.2,328.5 1190.9,329.1 1192.5,329.8C1194.1,330.4 1195.4,331.5 1196.9,332.2C1198.3,333.0 1199.8,333.3 1201.2,334.4C1202.7,335.4 1204.3,338.7 1205.6,338.5C1207.0,338.3 1208.2,333.9 1209.4,333.1C1210.5,332.4 1211.6,333.9 1212.5,334.1C1213.4,334.3 1214.1,335.2 1215.0,334.4C1215.9,333.6 1216.9,330.4 1218.1,329.4C1219.4,328.4 1220.9,328.8 1222.5,328.5C1224.1,328.2 1225.9,328.6 1227.5,327.9C1229.1,327.2 1230.3,325.0 1231.9,324.4C1233.4,323.7 1235.3,324.5 1236.9,324.0C1238.4,323.5 1239.9,322.1 1241.2,321.2C1242.6,320.4 1244.0,319.1 1245.0,318.8C1246.0,318.4 1246.6,318.3 1247.5,319.0C1248.4,319.7 1249.7,321.2 1250.6,323.1C1251.6,325.1 1252.3,328.7 1253.1,330.6C1254.0,332.5 1254.6,333.4 1255.6,334.4C1256.7,335.4 1258.1,335.7 1259.4,336.5C1260.6,337.3 1261.7,338.9 1263.1,339.0C1264.6,339.1 1266.6,337.0 1268.1,337.2C1269.7,337.5 1271.0,339.2 1272.5,340.2C1274.0,341.3 1275.8,343.1 1276.9,343.4C1277.9,343.7 1278.2,343.4 1278.8,341.9C1279.3,340.4 1279.5,335.9 1280.0,334.4C1280.5,332.9 1280.9,332.7 1281.9,332.9C1282.8,333.1 1284.2,334.2 1285.6,335.6C1287.1,337.0 1289.3,339.4 1290.6,341.2C1292.0,343.1 1292.5,345.6 1293.8,346.6C1295.0,347.6 1296.5,347.1 1298.1,347.2C1299.8,347.4 1301.9,347.5 1303.8,347.5C1305.6,347.5 1307.7,347.0 1309.4,347.2C1311.0,347.5 1312.3,348.7 1313.8,349.1C1315.2,349.5 1316.7,349.9 1318.1,349.8C1319.6,349.6 1321.1,348.0 1322.5,348.4C1323.9,348.8 1325.3,352.4 1326.6,352.2C1328.0,352.1 1329.1,348.4 1330.6,347.5C1332.1,346.6 1334.0,347.3 1335.6,346.9C1337.3,346.5 1339.1,344.6 1340.6,345.0C1342.2,345.4 1343.4,348.2 1345.0,349.1C1346.6,350.1 1348.5,350.2 1350.0,350.6C1351.5,351.0 1352.5,351.8 1353.8,351.6C1355.0,351.4 1355.9,349.6 1357.5,349.4C1359.1,349.1 1361.5,349.4 1363.1,350.0C1364.8,350.6 1366.0,352.2 1367.5,353.1C1369.0,354.1 1370.3,355.0 1371.9,355.6C1373.4,356.2 1375.7,357.1 1376.9,356.6C1378.0,356.1 1378.1,353.5 1378.8,352.5C1379.4,351.5 1380.0,350.4 1380.6,350.4C1381.2,350.4 1381.9,351.2 1382.5,352.5C1383.1,353.8 1383.1,357.3 1384.4,358.1C1385.6,358.9 1388.3,356.8 1390.0,357.2C1391.7,357.7 1392.7,360.2 1394.4,360.6C1396.0,361.1 1398.5,359.5 1400.0,360.0C1401.5,360.5 1402.1,362.2 1403.1,363.8C1404.2,365.2 1404.7,368.2 1406.2,369.0C1407.8,369.8 1410.5,368.2 1412.5,368.5C1414.5,368.8 1416.5,369.9 1418.1,370.6C1419.8,371.4 1421.0,372.6 1422.5,373.1C1424.0,373.7 1425.4,374.3 1426.9,374.0C1428.3,373.7 1429.9,372.2 1431.2,371.2C1432.6,370.3 1433.5,369.0 1435.0,368.5C1436.5,368.0 1438.6,368.3 1440.0,368.1C1441.4,367.9 1442.3,368.2 1443.1,367.2C1444.0,366.3 1444.4,365.0 1445.0,362.5C1445.6,360.0 1446.3,355.3 1446.9,352.5C1447.5,349.7 1447.6,347.8 1448.5,345.6C1449.4,343.4 1451.5,341.6 1452.5,339.4C1453.5,337.2 1453.8,335.5 1454.4,332.5C1455.0,329.5 1455.5,325.0 1456.2,321.2C1457.0,317.5 1458.0,313.5 1458.8,310.0C1459.5,306.5 1460.4,304.2 1461.0,300.0C1461.6,295.8 1461.9,290.8 1462.5,285.0C1463.1,279.2 1463.8,272.1 1464.4,265.0C1465.0,257.9 1465.6,249.4 1466.2,242.5C1466.9,235.6 1467.6,228.2 1468.1,223.8C1468.6,219.3 1469.0,217.3 1469.4,215.6C1469.8,213.9 1470.2,213.4 1470.6,213.5C1471.0,213.6 1471.6,213.5 1471.9,216.2C1472.2,219.0 1472.3,225.2 1472.5,230.0C1472.7,234.8 1472.9,240.8 1473.1,245.0C1473.4,249.2 1473.6,252.9 1474.0,255.0C1474.4,257.1 1474.7,257.7 1475.2,257.5C1475.8,257.3 1476.8,254.7 1477.5,253.8C1478.2,252.8 1479.1,251.5 1479.8,251.6C1480.4,251.7 1480.8,252.4 1481.2,254.4C1481.7,256.4 1482.0,261.5 1482.5,263.8C1483.0,266.0 1483.8,267.9 1484.4,267.9C1485.0,267.9 1485.6,265.6 1486.2,263.8C1486.9,261.9 1487.6,257.9 1488.1,256.9C1488.7,255.8 1489.1,255.9 1489.6,257.5C1490.1,259.1 1490.7,263.8 1491.2,266.2C1491.8,268.8 1492.2,271.0 1493.1,272.5C1494.1,274.0 1495.7,273.9 1496.9,275.0C1498.0,276.1 1499.1,278.2 1500.0,279.4C1500.9,280.5 1501.9,282.0 1502.5,281.9C1503.1,281.8 1503.4,281.1 1503.8,278.8C1504.1,276.4 1504.3,270.2 1504.8,267.5C1505.2,264.8 1505.2,263.6 1506.2,262.5C1507.3,261.4 1509.6,261.6 1511.2,260.6C1512.9,259.7 1514.8,257.8 1516.2,256.9C1517.7,255.9 1519.1,255.0 1520.0,255.0C1520.9,255.0 1521.2,255.7 1521.9,256.9C1522.6,258.0 1523.2,261.8 1524.4,261.9C1525.5,262.0 1527.4,258.5 1528.8,257.5C1530.1,256.5 1531.5,256.2 1532.5,256.0C1533.5,255.8 1534.1,255.5 1535.0,256.5C1535.9,257.5 1537.1,260.2 1538.1,261.9C1539.2,263.6 1539.9,265.7 1541.2,266.6C1542.6,267.5 1544.5,267.0 1546.2,267.1C1548.0,267.2 1550.4,267.8 1551.9,267.1C1553.3,266.5 1554.1,265.6 1555.0,263.1C1555.9,260.7 1556.8,255.5 1557.5,252.5C1558.2,249.5 1558.8,246.3 1559.4,245.0C1560.0,243.7 1560.3,244.3 1561.2,244.8C1562.2,245.2 1564.1,247.7 1565.0,247.5C1565.9,247.3 1566.4,246.4 1566.9,243.8C1567.4,241.1 1567.5,234.3 1567.9,231.9C1568.3,229.5 1568.8,229.4 1569.4,229.4C1569.9,229.4 1570.5,230.8 1571.2,231.9C1572.0,232.9 1572.8,235.5 1573.8,235.6C1574.7,235.7 1575.9,233.1 1576.9,232.5C1577.8,231.9 1578.5,231.4 1579.4,232.2C1580.2,233.1 1581.2,236.5 1581.9,237.5C1582.6,238.5 1582.9,238.9 1583.8,238.5C1584.6,238.1 1586.0,235.5 1586.9,235.0C1587.8,234.5 1588.2,234.0 1589.0,235.6C1589.8,237.3 1590.8,241.9 1591.9,245.0C1593.0,248.1 1594.5,252.2 1595.6,254.4C1596.8,256.6 1597.7,257.5 1598.8,258.1C1599.8,258.7 1600.7,258.7 1601.9,258.1C1603.0,257.5 1604.3,255.2 1605.6,254.4C1607.0,253.5 1608.4,253.4 1610.0,253.1C1611.6,252.8 1613.9,252.4 1615.0,252.8C1616.1,253.1 1616.0,252.8 1616.5,255.0C1617.0,257.2 1617.3,263.4 1617.8,266.2C1618.2,269.1 1618.4,270.6 1619.4,271.9C1620.4,273.1 1622.3,273.3 1623.8,273.8C1625.2,274.2 1627.1,275.2 1628.1,274.4C1629.2,273.5 1629.4,270.4 1630.0,268.8C1630.6,267.1 1631.3,265.2 1631.9,264.8C1632.5,264.3 1632.9,265.4 1633.8,266.2C1634.6,267.1 1635.8,270.0 1636.9,269.8C1637.9,269.5 1638.9,266.6 1640.0,265.0C1641.1,263.4 1642.5,261.1 1643.8,260.0C1645.0,258.9 1646.1,258.7 1647.5,258.5C1648.9,258.3 1650.6,258.3 1651.9,258.8C1653.1,259.2 1653.8,260.6 1655.0,261.2C1656.2,261.9 1658.4,262.5 1659.4,262.5C1660.4,262.5 1660.5,262.2 1660.9,261.2C1661.4,260.3 1661.5,257.9 1661.9,256.9C1662.3,255.8 1662.4,255.2 1663.4,255.0C1664.5,254.8 1667.1,255.9 1668.1,255.9C1669.2,255.9 1669.2,255.6 1669.7,255.0C1670.2,254.4 1670.7,252.8 1671.2,252.2C1671.8,251.6 1672.2,251.3 1673.1,251.4C1674.1,251.4 1675.8,252.5 1676.9,252.5C1677.9,252.5 1678.7,252.2 1679.4,251.6C1680.1,250.9 1680.6,249.2 1680.9,248.4C1681.2,247.7 1681.1,247.6 1681.2,247.2C1681.4,246.8 1681.9,246.4 1682.0,246.2"/>
<g transform="translate(1660,398) scale(0.03697)" fill="none" stroke-linecap="butt" stroke-linejoin="miter">
<g stroke="#b4b4b4" stroke-width="26">
<path d="M165,250H385M285,145V340M195,170L240,205M375,170L335,205M275,265L165,338M298,268L385,330"/>
<path d="M160,388H392M262,340L212,440L345,503M350,390Q330,470 165,532"/>
<path d="M455,142L405,292M425,226H588M545,230Q530,420 365,528M428,300Q480,450 592,530"/>
</g>
<g stroke="#cdcdcd" stroke-width="25">
<path d="M680,187H952V277H680ZM680,232H952"/>
<path d="M600,335H1030M668,390H962M668,362V443M962,362V443M620,443H1002M815,350V500M600,500H1030"/>
</g>
</g>
<g stroke="#efefef" stroke-width="1.4">
<line x1="122.0" y1="440.9" x2="1682.0" y2="440.9"/>
<line x1="122.0" y1="454.5" x2="1682.0" y2="454.5"/>
<line x1="122.0" y1="468.1" x2="1682.0" y2="468.1"/>
<line x1="122.0" y1="481.4" x2="1682.0" y2="481.4"/>
<line x1="122.0" y1="495.1" x2="1682.0" y2="495.1"/>
<line x1="122.0" y1="508.9" x2="1682.0" y2="508.9"/>
<line x1="122.0" y1="451.9" x2="1682.0" y2="451.9"/>
<line x1="122.0" y1="463.9" x2="1682.0" y2="463.9"/>
<line x1="122.0" y1="475.0" x2="1682.0" y2="475.0"/>
<line x1="122.0" y1="487.2" x2="1682.0" y2="487.2"/>
<line x1="122.0" y1="499.2" x2="1682.0" y2="499.2"/>
<line x1="122.0" y1="509.9" x2="1682.0" y2="509.9"/>
</g>
<line x1="121.5" y1="522.1" x2="1683" y2="522.1" stroke="#cccccc" stroke-width="1.6"/>
<line x1="1682.4" y1="440.3" x2="1682.4" y2="522.6" stroke="#cccccc" stroke-width="1.6"/>
<g class="t" text-anchor="end">
<text x="111.2" y="456.5" textLength="46.9" lengthAdjust="spacing">96.8%</text>
<text x="111.2" y="468.1" textLength="46.9" lengthAdjust="spacing">96.6%</text>
<text x="111.2" y="479.7" textLength="46.9" lengthAdjust="spacing">96.4%</text>
<text x="111.2" y="491.3" textLength="46.9" lengthAdjust="spacing">96.2%</text>
<text x="111.2" y="502.9" textLength="33.5" lengthAdjust="spacing">96%</text>
<text x="111.2" y="514.5" textLength="46.9" lengthAdjust="spacing">95.8%</text>
</g>
<g class="t" text-anchor="start">
<text x="1693" y="458.0">8</text>
<text x="1693" y="471.5">7</text>
<text x="1693" y="485.0">6</text>
<text x="1693" y="498.5">5</text>
<text x="1693" y="512.0">4</text>
</g>
<path fill="none" stroke="#d97b79" stroke-width="2.8" stroke-linejoin="round" stroke-linecap="round" d="M122.5,508.5C123.3,508.4 126.0,508.0 127.5,507.8C129.0,507.7 130.2,507.8 131.2,507.6C132.3,507.3 132.8,506.4 133.8,506.1C134.7,505.8 135.6,505.9 136.9,505.9C138.1,505.8 140.0,505.9 141.2,505.7C142.5,505.6 143.2,505.2 144.4,504.9C145.5,504.7 147.1,504.7 148.1,504.3C149.2,504.0 149.9,503.4 150.6,502.9C151.3,502.5 151.9,501.9 152.5,501.7C153.1,501.4 153.4,501.5 154.0,501.5C154.6,501.6 155.5,501.8 156.2,502.0C157.0,502.2 157.8,502.6 158.8,502.9C159.7,503.2 160.8,503.8 161.9,503.9C162.9,504.1 164.0,503.8 165.0,503.8C166.0,503.7 167.0,503.5 168.1,503.6C169.3,503.6 170.6,503.9 171.9,503.9C173.1,503.9 174.4,503.7 175.6,503.5C176.9,503.3 178.1,503.0 179.4,502.9C180.6,502.9 182.0,503.1 183.1,503.2C184.3,503.2 185.1,503.5 186.2,503.4C187.4,503.3 188.8,502.7 190.0,502.4C191.2,502.2 192.7,501.9 193.8,501.9C194.8,501.9 195.2,502.0 196.2,502.4C197.3,502.8 199.0,503.8 200.0,504.2C201.0,504.6 201.7,504.8 202.5,504.9C203.3,504.9 204.2,504.6 205.0,504.4C205.8,504.3 206.7,504.0 207.5,504.0C208.3,504.0 209.2,504.4 210.0,504.5C210.8,504.7 211.5,505.0 212.5,504.9C213.5,504.9 215.0,504.5 216.2,504.4C217.5,504.4 218.8,504.4 220.0,504.5C221.2,504.7 222.5,505.0 223.8,505.2C225.0,505.4 226.2,505.6 227.5,505.7C228.8,505.8 230.0,505.7 231.2,505.7C232.5,505.8 234.1,506.0 235.0,505.9C235.9,505.8 236.3,505.3 236.9,504.9C237.5,504.6 238.0,504.1 238.8,504.0C239.5,504.0 240.4,504.3 241.2,504.5C242.1,504.7 242.8,505.0 243.8,505.2C244.7,505.4 245.9,505.5 246.9,505.7C247.8,506.0 248.4,506.4 249.4,506.8C250.3,507.2 251.5,507.9 252.5,508.1C253.5,508.3 254.6,508.0 255.6,507.8C256.7,507.6 257.7,507.2 258.8,507.0C259.8,506.8 260.8,506.6 261.9,506.5C262.9,506.4 264.1,506.6 265.0,506.5C265.9,506.4 266.7,506.5 267.5,506.1C268.3,505.7 269.3,504.4 270.0,504.2C270.7,503.9 271.0,504.3 271.5,504.7C272.0,505.1 272.5,506.2 273.1,506.8C273.7,507.3 274.4,507.7 275.0,507.8C275.6,507.9 276.1,507.6 276.9,507.3C277.6,507.0 278.2,506.6 279.4,506.2C280.5,505.9 282.4,505.7 283.8,505.2C285.1,504.7 286.2,503.9 287.5,503.4C288.8,503.0 290.0,502.7 291.2,502.5C292.5,502.3 293.9,502.4 295.0,502.4C296.1,502.4 297.1,502.7 298.1,502.7C299.2,502.6 300.1,502.2 301.2,502.1C302.4,502.0 303.8,502.0 305.0,502.0C306.2,502.0 307.6,502.1 308.8,502.2C309.9,502.2 310.8,501.9 311.9,502.2C312.9,502.4 313.9,503.5 315.0,503.5C316.1,503.6 317.7,502.6 318.8,502.5C319.8,502.4 320.3,502.7 321.2,502.8C322.2,502.8 323.2,503.0 324.4,502.9C325.5,502.8 327.1,502.4 328.1,502.3C329.2,502.3 329.8,502.5 330.6,502.7C331.5,502.8 332.4,503.2 333.1,503.3C333.9,503.4 334.2,503.3 335.0,503.2C335.8,503.0 336.8,502.6 338.1,502.4C339.5,502.3 341.8,502.1 343.1,502.3C344.5,502.5 344.9,503.6 346.2,503.8C347.6,504.1 349.5,503.7 351.2,503.7C353.0,503.6 355.4,503.3 356.9,503.6C358.3,503.9 358.9,505.0 360.0,505.5C361.1,506.0 362.0,506.4 363.8,506.6C365.5,506.8 368.4,506.3 370.6,506.7C372.8,507.0 375.0,508.0 376.9,508.5C378.8,509.0 380.3,509.5 381.9,509.7C383.4,509.8 384.7,509.6 386.2,509.4C387.8,509.2 389.6,508.6 391.2,508.3C392.9,508.1 394.7,508.1 396.2,507.8C397.8,507.5 399.2,506.5 400.6,506.4C402.1,506.3 403.4,506.9 405.0,507.0C406.6,507.2 408.4,507.4 410.0,507.3C411.6,507.2 412.7,506.5 414.4,506.4C416.0,506.2 418.4,506.2 420.0,506.5C421.6,506.8 422.5,507.6 423.8,508.0C425.0,508.3 426.1,508.3 427.5,508.6C428.9,509.0 430.3,509.9 431.9,510.1C433.4,510.3 435.3,509.8 436.9,509.8C438.4,509.8 439.9,509.8 441.2,510.1C442.6,510.4 443.5,511.5 445.0,511.7C446.5,511.9 448.2,511.5 450.0,511.4C451.8,511.4 453.7,511.5 455.6,511.4C457.5,511.3 459.7,511.0 461.2,510.8C462.8,510.5 463.5,510.2 465.0,509.7C466.5,509.1 468.2,508.2 470.0,507.6C471.8,506.9 473.7,506.2 475.6,506.0C477.5,505.8 479.5,506.3 481.2,506.2C483.0,506.2 484.6,506.0 486.2,505.9C487.9,505.8 489.7,505.4 491.2,505.5C492.8,505.6 494.3,506.6 495.6,506.4C497.0,506.2 498.0,504.9 499.4,504.4C500.7,504.0 502.3,504.4 503.8,503.9C505.2,503.5 506.6,502.1 508.1,501.8C509.7,501.5 511.5,502.3 513.1,502.3C514.8,502.4 516.7,501.9 518.1,502.2C519.6,502.4 520.5,503.8 521.9,503.9C523.2,504.1 524.8,503.0 526.2,503.0C527.7,503.0 529.2,503.8 530.6,503.9C532.1,504.0 533.0,503.6 535.0,503.5C537.0,503.4 540.2,503.5 542.5,503.4C544.8,503.3 546.7,503.0 548.8,502.9C550.8,502.8 553.2,503.0 555.0,503.0C556.8,503.0 558.0,503.1 559.4,503.1C560.7,503.1 561.9,503.2 563.1,503.0C564.4,502.8 565.9,502.1 566.9,502.0C567.8,501.9 568.0,502.0 568.8,502.4C569.5,502.8 570.1,504.1 571.2,504.2C572.4,504.3 574.1,502.9 575.6,502.9C577.2,502.9 579.0,504.2 580.6,504.1C582.3,504.0 584.1,502.7 585.6,502.3C587.2,501.9 588.5,501.9 590.0,501.7C591.5,501.4 592.9,501.1 594.4,500.9C595.8,500.7 597.4,500.7 598.8,500.3C600.1,499.9 601.0,498.7 602.5,498.6C604.0,498.4 605.8,499.4 607.5,499.5C609.2,499.6 610.8,499.3 612.5,499.1C614.2,498.9 616.0,498.3 617.5,498.1C619.0,497.9 619.9,497.7 621.2,497.9C622.6,498.0 624.2,499.1 625.6,499.2C627.1,499.2 628.4,498.5 630.0,498.2C631.6,498.0 633.0,498.0 635.0,497.7C637.0,497.5 639.8,497.0 641.9,496.8C644.0,496.6 645.6,496.6 647.5,496.6C649.4,496.6 651.4,496.8 653.1,496.8C654.9,496.8 656.7,496.3 658.1,496.5C659.6,496.8 660.3,497.8 661.9,498.2C663.4,498.6 665.7,498.7 667.5,498.9C669.3,499.1 671.1,499.3 672.5,499.4C673.9,499.5 674.7,499.8 675.6,499.4C676.6,499.1 676.8,497.5 678.1,497.1C679.5,496.8 682.1,497.7 683.8,497.5C685.4,497.3 686.6,496.2 688.1,496.1C689.7,495.9 691.6,496.6 693.1,496.5C694.7,496.4 696.1,495.5 697.5,495.5C698.9,495.4 699.9,496.0 701.2,496.3C702.6,496.6 703.8,497.3 705.6,497.5C707.4,497.7 710.3,497.8 711.9,497.5C713.4,497.1 713.9,496.0 715.0,495.3C716.1,494.7 717.2,493.6 718.8,493.4C720.3,493.1 722.8,493.9 724.4,493.7C725.9,493.5 726.8,492.6 728.1,492.4C729.5,492.3 730.9,492.5 732.5,492.7C734.1,492.8 736.0,493.4 737.5,493.5C739.0,493.5 739.8,493.4 741.2,493.0C742.7,492.6 745.1,491.6 746.2,491.3C747.4,491.0 747.2,491.1 748.1,491.4C749.1,491.7 750.5,492.6 751.9,493.0C753.2,493.4 755.0,494.0 756.2,493.8C757.5,493.6 758.1,492.0 759.4,491.6C760.6,491.2 762.2,491.4 763.8,491.2C765.3,491.1 767.2,490.8 768.8,490.7C770.3,490.6 772.1,490.6 773.1,490.6C774.2,490.5 774.5,490.8 775.0,490.5C775.5,490.2 775.7,489.2 776.2,488.7C776.8,488.2 777.1,487.6 778.1,487.4C779.2,487.3 780.9,487.9 782.5,488.0C784.1,488.2 785.9,488.1 787.5,488.3C789.1,488.5 790.4,489.4 791.9,489.2C793.3,489.0 794.8,487.7 796.2,487.1C797.7,486.6 799.1,485.9 800.6,485.8C802.2,485.8 804.0,486.7 805.6,486.8C807.3,486.9 809.3,486.6 810.6,486.4C812.0,486.2 812.3,485.6 813.8,485.5C815.2,485.5 817.8,486.3 819.4,486.2C820.9,486.0 821.9,485.0 823.1,484.5C824.4,484.0 825.3,483.4 826.9,483.1C828.4,482.9 830.7,483.0 832.5,483.0C834.3,483.0 835.9,483.1 837.5,483.1C839.1,483.0 840.5,483.2 841.9,482.8C843.2,482.5 844.3,481.2 845.6,481.0C847.0,480.9 848.4,481.7 850.0,481.9C851.6,482.1 853.1,482.1 855.0,482.2C856.9,482.3 859.2,482.3 861.2,482.4C863.3,482.5 865.6,482.7 867.5,482.8C869.4,482.8 870.8,482.8 872.5,482.9C874.2,483.0 875.9,483.4 877.5,483.3C879.1,483.2 880.6,483.0 881.9,482.4C883.1,481.8 884.0,480.2 885.0,479.7C886.0,479.2 887.0,479.5 888.1,479.4C889.3,479.4 890.7,479.3 891.9,479.4C893.0,479.6 893.6,480.1 895.0,480.1C896.4,480.2 898.3,479.8 900.0,479.6C901.7,479.5 903.3,479.4 905.0,479.1C906.7,478.8 908.1,478.3 910.0,478.0C911.9,477.7 914.3,477.3 916.2,477.2C918.2,477.1 920.1,477.2 921.9,477.4C923.7,477.5 925.5,478.3 926.9,478.1C928.2,477.9 928.5,476.4 930.0,476.1C931.5,475.8 933.9,476.3 935.6,476.4C937.4,476.5 939.1,476.5 940.6,476.8C942.2,477.1 943.8,478.5 945.0,478.3C946.2,478.1 947.3,476.2 948.1,475.7C949.0,475.3 949.1,475.4 950.0,475.6C950.9,475.9 952.6,476.4 953.8,477.1C954.9,477.8 955.6,479.2 956.9,479.6C958.1,480.1 959.5,479.8 961.2,479.8C963.0,479.9 965.6,479.6 967.5,479.9C969.4,480.3 970.4,481.2 972.5,481.8C974.6,482.4 978.1,483.7 980.0,483.6C981.9,483.4 982.8,481.3 983.8,480.9C984.7,480.4 984.7,480.5 985.6,480.8C986.6,481.0 988.2,482.1 989.4,482.2C990.5,482.3 991.6,481.4 992.5,481.2C993.4,480.9 993.5,480.7 995.0,480.6C996.5,480.4 999.2,480.3 1001.2,480.3C1003.3,480.2 1005.8,480.4 1007.5,480.1C1009.2,479.9 1009.8,479.1 1011.2,478.8C1012.7,478.6 1014.5,478.5 1016.2,478.5C1018.0,478.5 1020.4,479.1 1021.9,478.8C1023.3,478.6 1023.6,477.4 1025.0,477.1C1026.4,476.8 1028.3,476.8 1030.0,476.8C1031.7,476.8 1033.5,477.1 1035.0,477.0C1036.5,476.8 1037.5,476.4 1038.8,475.9C1040.0,475.4 1040.7,474.2 1042.2,473.9C1043.8,473.6 1046.5,474.3 1048.1,474.1C1049.7,474.0 1050.4,473.0 1051.9,472.9C1053.3,472.8 1055.3,473.5 1056.9,473.4C1058.4,473.4 1059.9,472.8 1061.2,472.7C1062.6,472.6 1064.0,472.8 1065.0,473.0C1066.0,473.2 1066.7,473.5 1067.5,473.9C1068.3,474.4 1068.8,475.7 1070.0,475.7C1071.2,475.8 1073.3,474.5 1075.0,474.2C1076.7,473.9 1078.3,474.0 1080.0,473.9C1081.7,473.9 1083.6,473.8 1085.0,474.1C1086.4,474.5 1086.7,475.6 1088.1,475.9C1089.6,476.2 1092.0,476.1 1093.8,476.0C1095.5,475.9 1096.8,475.4 1098.8,475.2C1100.7,475.0 1103.7,475.2 1105.6,474.7C1107.5,474.3 1108.8,472.9 1110.0,472.4C1111.2,472.0 1112.1,472.1 1113.1,472.0C1114.2,472.0 1115.1,471.9 1116.2,472.1C1117.4,472.4 1118.6,473.2 1120.0,473.3C1121.4,473.3 1123.0,472.8 1124.4,472.4C1125.7,472.0 1126.8,471.1 1128.1,470.9C1129.5,470.7 1130.8,471.0 1132.5,471.0C1134.2,471.1 1136.5,471.3 1138.1,471.2C1139.8,471.1 1140.9,470.4 1142.5,470.1C1144.1,469.9 1146.0,470.0 1147.5,469.8C1149.0,469.5 1149.9,468.7 1151.2,468.6C1152.6,468.5 1154.2,469.1 1155.6,469.4C1157.1,469.8 1158.4,470.3 1160.0,470.6C1161.6,471.0 1163.6,471.5 1165.0,471.4C1166.4,471.2 1166.6,470.1 1168.1,469.8C1169.7,469.5 1172.8,469.9 1174.4,469.5C1175.9,469.2 1176.1,468.0 1177.5,467.8C1178.9,467.5 1180.7,467.8 1182.5,467.8C1184.3,467.8 1186.7,468.1 1188.1,467.8C1189.6,467.4 1189.7,466.0 1191.2,465.7C1192.8,465.4 1195.8,466.1 1197.5,466.0C1199.2,465.8 1199.8,465.1 1201.2,464.7C1202.7,464.4 1204.9,464.0 1206.2,463.8C1207.6,463.6 1208.3,463.4 1209.4,463.5C1210.4,463.5 1211.6,464.0 1212.5,464.1C1213.4,464.2 1214.1,464.3 1215.0,464.2C1215.9,464.1 1217.3,463.4 1218.1,463.3C1219.0,463.2 1219.4,463.2 1220.0,463.5C1220.6,463.8 1221.3,464.5 1221.9,464.9C1222.5,465.3 1222.9,465.9 1223.5,465.9C1224.1,465.9 1225.0,465.3 1225.6,464.9C1226.3,464.5 1226.8,463.7 1227.5,463.3C1228.2,463.0 1229.2,462.9 1230.0,462.7C1230.8,462.6 1231.6,462.7 1232.5,462.5C1233.4,462.4 1234.7,462.0 1235.6,461.9C1236.6,461.8 1237.3,461.8 1238.1,461.9C1239.0,462.1 1239.8,462.4 1240.6,462.8C1241.5,463.2 1242.3,463.8 1243.1,464.4C1244.0,464.9 1244.7,465.6 1245.6,466.1C1246.6,466.6 1247.8,467.1 1248.8,467.3C1249.7,467.5 1250.3,467.5 1251.2,467.4C1252.2,467.3 1253.3,466.9 1254.4,466.9C1255.4,466.8 1256.6,466.8 1257.5,467.0C1258.4,467.3 1259.3,467.7 1260.0,468.3C1260.7,469.0 1261.3,470.3 1261.9,470.9C1262.5,471.5 1262.9,471.8 1263.8,472.0C1264.6,472.1 1265.9,471.9 1266.9,471.7C1267.8,471.5 1268.7,471.2 1269.4,470.7C1270.1,470.3 1270.7,469.4 1271.2,469.1C1271.8,468.7 1271.9,468.6 1272.9,468.7C1273.8,468.7 1275.6,469.4 1276.9,469.5C1278.2,469.6 1279.5,469.4 1280.6,469.1C1281.8,468.9 1282.9,468.5 1283.8,468.1C1284.6,467.8 1285.0,467.2 1285.6,467.0C1286.2,466.7 1286.9,466.7 1287.5,466.9C1288.1,467.0 1288.8,467.3 1289.4,467.9C1290.0,468.6 1290.7,469.9 1291.2,470.9C1291.8,471.9 1292.1,472.5 1292.5,473.8C1292.9,475.0 1293.1,477.5 1293.5,478.5C1293.9,479.5 1294.2,479.8 1295.0,479.8C1295.8,479.8 1297.1,478.7 1298.1,478.3C1299.2,477.9 1300.2,477.6 1301.2,477.4C1302.3,477.2 1303.4,477.1 1304.4,477.2C1305.3,477.3 1306.0,477.7 1306.9,477.9C1307.7,478.1 1308.7,478.7 1309.4,478.6C1310.1,478.6 1310.6,478.2 1311.2,477.7C1311.9,477.2 1311.9,476.4 1313.1,475.8C1314.4,475.2 1317.2,474.7 1318.8,474.1C1320.3,473.6 1321.2,473.2 1322.5,472.6C1323.8,472.1 1324.8,471.4 1326.2,470.9C1327.7,470.4 1330.1,470.1 1331.2,469.7C1332.4,469.3 1332.6,469.1 1333.1,468.7C1333.6,468.3 1333.9,467.5 1334.4,467.2C1334.9,467.0 1335.6,467.0 1336.2,467.1C1336.9,467.3 1337.4,467.6 1338.1,467.8C1338.8,468.1 1339.6,468.5 1340.6,468.4C1341.7,468.3 1343.0,467.4 1344.4,467.1C1345.7,466.9 1347.2,466.9 1348.8,466.9C1350.3,466.8 1352.2,466.7 1353.8,466.8C1355.3,466.9 1356.8,467.6 1358.1,467.6C1359.5,467.6 1360.9,467.0 1361.9,466.9C1362.8,466.7 1362.9,466.7 1363.8,466.9C1364.6,467.0 1365.5,467.5 1366.9,467.6C1368.2,467.6 1370.7,467.1 1371.9,467.1C1373.0,467.2 1373.1,467.5 1373.8,467.8C1374.4,468.1 1374.8,468.8 1375.6,468.9C1376.5,469.1 1377.4,468.9 1378.8,468.8C1380.1,468.6 1382.2,468.2 1383.8,468.1C1385.3,467.9 1387.0,467.7 1388.1,467.7C1389.3,467.6 1390.0,467.5 1390.6,467.8C1391.2,468.0 1391.5,468.6 1391.9,469.4C1392.2,470.2 1392.3,471.8 1392.8,472.4C1393.2,473.0 1393.4,473.0 1394.4,473.0C1395.4,473.0 1397.2,472.4 1398.8,472.2C1400.3,472.1 1402.4,471.9 1403.8,472.0C1405.1,472.2 1405.6,473.0 1406.9,473.2C1408.1,473.4 1409.8,473.2 1411.2,473.1C1412.7,473.0 1414.4,473.0 1415.6,472.7C1416.9,472.5 1417.7,472.1 1418.8,471.7C1419.8,471.2 1420.8,470.3 1421.9,469.8C1422.9,469.3 1424.0,468.9 1425.0,468.8C1426.0,468.6 1427.1,468.8 1428.1,468.9C1429.2,468.9 1430.1,469.3 1431.2,469.1C1432.4,468.8 1433.8,467.9 1435.0,467.6C1436.2,467.2 1437.4,467.1 1438.8,466.9C1440.1,466.6 1441.7,466.1 1443.1,466.1C1444.6,466.0 1445.8,466.3 1447.5,466.4C1449.2,466.5 1451.8,466.7 1453.1,466.6C1454.5,466.5 1454.8,465.7 1455.6,465.5C1456.5,465.3 1457.4,465.2 1458.1,465.4C1458.8,465.5 1459.4,466.2 1460.0,466.5C1460.6,466.8 1460.8,467.2 1461.9,467.1C1462.9,467.0 1464.8,466.3 1466.2,466.1C1467.7,465.8 1469.1,465.7 1470.6,465.7C1472.2,465.8 1474.4,466.5 1475.6,466.3C1476.9,466.2 1477.3,465.2 1478.1,464.8C1479.0,464.5 1479.6,464.3 1480.6,464.1C1481.7,463.9 1483.0,464.0 1484.4,463.8C1485.7,463.5 1487.6,463.0 1488.8,462.4C1489.9,461.9 1490.5,461.1 1491.2,460.7C1492.0,460.4 1492.1,460.4 1493.1,460.4C1494.2,460.5 1496.1,461.1 1497.5,461.1C1498.9,461.1 1499.8,460.4 1501.2,460.2C1502.7,460.1 1504.6,460.2 1506.2,460.2C1507.9,460.1 1509.7,459.9 1511.2,459.9C1512.8,459.9 1514.1,460.2 1515.6,460.2C1517.2,460.2 1519.3,459.7 1520.6,459.9C1522.0,460.1 1522.4,461.0 1523.8,461.2C1525.1,461.3 1527.3,461.2 1528.8,460.9C1530.2,460.6 1530.8,459.8 1532.5,459.6C1534.2,459.3 1537.2,459.7 1538.8,459.5C1540.3,459.3 1540.9,458.5 1541.9,458.3C1542.8,458.2 1543.4,458.3 1544.4,458.6C1545.3,458.9 1546.4,459.8 1547.5,460.2C1548.6,460.7 1549.8,461.1 1551.2,461.4C1552.7,461.6 1554.6,461.7 1556.2,461.8C1557.9,461.8 1560.1,461.8 1561.2,461.5C1562.4,461.2 1562.6,460.6 1563.1,460.1C1563.6,459.6 1563.8,458.9 1564.4,458.6C1565.0,458.2 1565.8,458.2 1566.9,458.0C1567.9,457.8 1569.0,457.8 1570.6,457.4C1572.3,457.0 1575.2,456.0 1576.9,455.7C1578.5,455.4 1579.4,455.6 1580.6,455.6C1581.9,455.6 1583.2,455.6 1584.4,455.7C1585.5,455.9 1586.2,456.2 1587.5,456.4C1588.8,456.6 1590.6,456.5 1591.9,456.8C1593.1,457.1 1594.1,458.0 1595.0,458.2C1595.9,458.5 1596.4,458.5 1597.5,458.4C1598.6,458.3 1600.1,458.2 1601.9,457.9C1603.7,457.6 1606.5,456.7 1608.1,456.4C1609.8,456.2 1610.5,456.3 1611.9,456.2C1613.2,456.1 1614.5,456.4 1616.2,456.1C1618.0,455.8 1620.6,454.6 1622.5,454.4C1624.4,454.2 1625.9,454.8 1627.5,454.8C1629.1,454.7 1630.3,454.1 1631.9,454.1C1633.4,454.0 1635.3,454.8 1636.9,454.8C1638.4,454.8 1639.7,454.3 1641.2,454.1C1642.8,453.8 1645.3,453.6 1646.2,453.4C1646.9,453.3 1646.5,453.3 1646.9,453.1C1647.2,452.9 1647.9,452.4 1648.4,452.2C1649.0,452.0 1649.0,451.9 1650.0,451.8C1651.0,451.7 1653.1,451.8 1654.4,451.6C1655.6,451.5 1656.7,451.2 1657.5,451.0C1658.3,450.9 1658.3,450.8 1659.4,450.8C1660.4,450.8 1662.8,451.1 1663.8,451.1C1664.7,451.1 1664.5,451.1 1665.0,450.9C1665.5,450.8 1666.0,450.4 1666.6,450.3C1667.1,450.1 1667.7,450.0 1668.4,450.0C1669.2,450.1 1670.4,450.3 1671.2,450.4C1672.1,450.5 1672.8,450.6 1673.8,450.5C1674.7,450.4 1675.9,450.2 1676.9,450.0C1677.8,449.8 1678.7,449.6 1679.4,449.4C1680.1,449.2 1680.8,448.9 1681.2,448.8C1681.7,448.6 1681.9,448.6 1682.0,448.6"/>
<line x1="122.0" y1="481.0" x2="1682.0" y2="481.0" stroke="#789dfc" stroke-width="2.3"/>
<clipPath id="sc"><rect x="126.8" y="551.2" width="1558.8" height="39.0" rx="3.5"/></clipPath>
<g clip-path="url(#sc)">
<rect x="126.8" y="551.2" width="1558.8" height="39.0" fill="#fefefe"/>
<polygon fill="#f5f6fb" points="126.8,590.2 127.5,578.0 133.8,577.0 140.0,578.0 146.2,576.8 151.2,579.2 156.2,577.0 165.0,576.2 172.0,575.0 174.5,579.2 182.5,577.5 192.5,577.5 198.8,580.0 201.8,582.5 206.2,580.0 213.8,580.8 218.8,578.2 221.2,579.5 224.2,576.5 232.5,576.2 236.2,577.5 239.5,575.5 242.5,577.5 250.0,577.0 260.0,577.8 272.5,577.0 281.2,580.0 290.0,577.0 300.0,575.8 314.5,575.0 316.2,578.0 327.5,578.8 337.5,577.5 343.8,578.2 351.2,575.5 359.5,574.5 361.2,578.2 372.5,578.2 381.2,577.0 390.0,578.0 402.5,577.0 412.5,578.0 418.8,576.8 423.8,580.5 428.8,580.5 431.2,578.0 440.0,576.2 450.0,574.5 463.8,575.0 465.5,578.0 477.5,578.0 487.5,578.8 495.0,579.2 502.5,577.5 520.0,577.5 537.5,578.0 554.8,578.2 567.5,578.0 581.2,576.8 588.8,580.8 597.5,578.8 607.5,580.5 613.8,580.0 617.5,578.0 630.0,577.5 642.5,577.0 657.5,575.8 667.5,575.5 680.0,575.5 687.5,577.0 696.2,576.2 702.5,577.5 707.5,576.5 717.5,579.2 725.0,577.8 730.0,578.0 737.5,576.5 750.0,575.8 758.8,575.0 761.2,578.2 770.0,578.8 778.8,579.0 785.0,577.2 790.0,578.5 802.5,578.0 820.0,576.8 835.0,577.0 850.0,576.2 853.8,578.2 862.5,577.5 868.8,576.5 871.2,578.2 877.5,578.0 883.8,575.5 891.2,577.5 898.2,582.5 903.8,577.5 915.0,574.5 930.0,573.0 945.0,570.5 955.0,568.8 962.5,567.5 966.2,564.2 968.8,568.8 975.0,568.0 980.0,568.8 986.2,568.8 988.2,577.5 994.8,577.0 1002.5,577.5 1010.0,576.8 1015.0,578.0 1022.5,578.0 1032.5,577.0 1040.0,578.8 1047.5,578.2 1056.2,576.5 1070.0,576.5 1075.0,578.2 1085.0,578.0 1096.2,576.8 1105.0,578.2 1117.5,576.8 1127.5,579.5 1137.5,578.0 1150.0,577.5 1165.0,577.5 1173.8,580.5 1182.5,580.0 1191.2,581.8 1197.5,579.5 1207.5,580.5 1212.5,581.2 1214.5,578.0 1222.5,577.0 1230.0,578.5 1242.5,577.5 1255.0,577.0 1267.5,578.8 1280.0,577.0 1290.0,575.8 1298.8,575.8 1302.5,578.2 1312.5,578.8 1322.5,577.0 1332.5,578.0 1345.0,576.8 1355.0,576.5 1362.5,578.0 1370.0,577.0 1381.2,577.5 1387.3,577.5 1388.4,577.3 1389.2,577.0 1390.2,576.8 1391.0,576.4 1391.5,576.2 1392.1,576.4 1392.9,576.6 1393.9,576.6 1394.9,576.4 1395.8,576.5 1396.8,576.2 1397.6,576.7 1398.3,576.7 1398.9,576.7 1399.8,576.7 1400.8,576.9 1401.8,577.0 1402.5,576.8 1403.1,576.7 1403.9,577.0 1404.6,577.4 1405.4,577.2 1406.3,577.1 1406.9,576.7 1407.4,577.2 1407.9,577.3 1408.8,576.9 1409.8,576.4 1410.7,576.4 1411.6,576.3 1412.5,576.3 1413.4,576.4 1414.2,576.4 1415.0,576.4 1415.6,576.5 1416.7,576.3 1417.8,576.6 1418.9,576.9 1420.4,577.2 1421.9,577.7 1423.1,577.5 1424.4,577.1 1425.6,577.3 1427.0,577.1 1428.0,577.5 1429.2,577.7 1430.3,578.1 1431.7,578.0 1433.0,577.7 1434.4,577.0 1435.8,577.0 1437.0,577.1 1438.1,576.6 1439.4,576.3 1440.5,576.6 1441.7,576.6 1443.3,576.5 1445.0,576.5 1446.0,576.5 1446.8,576.3 1447.7,576.4 1449.0,576.3 1450.2,576.0 1451.3,575.6 1452.6,575.7 1453.8,575.4 1455.0,575.5 1456.6,575.2 1458.1,575.2 1459.2,575.5 1460.6,575.7 1461.4,575.3 1462.7,575.1 1464.0,574.9 1465.1,575.3 1466.3,574.9 1467.6,574.6 1468.6,574.3 1469.8,574.4 1470.7,574.1 1471.8,574.6 1472.8,574.0 1474.1,573.9 1474.5,573.5 1475.3,573.3 1476.6,573.6 1477.7,572.8 1479.1,573.0 1480.2,572.9 1481.2,572.2 1482.6,572.2 1483.7,571.7 1485.0,572.0 1486.6,572.1 1488.0,572.2 1489.0,571.4 1489.9,571.3 1491.0,571.4 1492.3,571.0 1493.9,570.8 1495.0,570.5 1496.4,570.7 1497.4,570.4 1498.2,570.8 1499.2,571.4 1500.7,571.9 1502.2,571.7 1502.9,572.0 1503.7,571.6 1505.3,571.5 1506.5,571.1 1507.7,570.8 1509.0,570.7 1510.0,569.9 1511.2,569.7 1512.5,569.6 1513.3,570.0 1514.3,570.0 1515.7,570.0 1516.8,570.5 1518.4,570.2 1519.4,569.5 1520.3,569.8 1521.4,569.2 1522.7,569.3 1524.0,568.9 1525.1,568.8 1526.3,569.3 1527.6,568.8 1528.7,568.4 1529.8,567.8 1531.2,567.5 1532.3,567.2 1533.0,567.3 1533.7,567.2 1534.1,567.8 1534.7,567.1 1535.3,566.9 1536.1,566.7 1536.8,567.4 1537.5,568.2 1538.3,568.1 1539.0,568.5 1539.5,569.5 1540.3,569.1 1540.7,568.6 1541.8,568.7 1542.4,568.1 1542.9,568.4 1543.3,569.9 1543.7,571.4 1544.5,570.8 1545.3,571.0 1545.8,570.9 1546.8,570.0 1547.8,569.2 1548.8,568.6 1549.2,568.2 1549.8,568.5 1550.8,568.1 1552.1,568.3 1552.8,568.1 1553.9,568.2 1554.4,568.7 1555.5,568.4 1556.4,568.3 1556.7,569.6 1557.5,569.5 1558.6,569.8 1559.8,569.6 1560.6,568.9 1561.4,568.6 1562.4,568.3 1563.4,567.9 1564.8,568.0 1565.4,567.7 1565.9,568.2 1567.1,567.8 1568.1,567.5 1568.9,567.2 1569.9,566.4 1570.7,566.5 1571.9,566.2 1573.1,566.2 1574.2,566.5 1575.4,566.0 1576.6,565.6 1577.4,566.2 1578.5,566.7 1579.4,566.2 1579.9,565.6 1581.3,564.9 1582.3,564.9 1583.3,565.2 1584.0,565.7 1585.4,565.1 1586.5,565.0 1588.0,564.6 1589.3,564.6 1590.5,564.1 1590.8,563.7 1591.6,563.6 1592.3,563.3 1593.0,563.3 1593.5,563.1 1594.2,563.2 1595.0,562.8 1595.3,562.6 1595.3,562.6 1600.0,561.8 1604.0,561.5 1607.0,561.2 1609.5,562.3 1614.0,561.2 1618.0,560.8 1622.5,560.5 1626.0,562.8 1629.0,563.3 1631.5,564.7 1636.5,562.5 1640.0,563.5 1642.3,566.0 1644.0,564.0 1650.0,562.5 1654.0,561.5 1660.0,560.8 1666.0,560.2 1671.0,560.0 1677.0,558.8 1685.0,558.3 1685.6,590.2"/>
<polyline fill="none" stroke="#dde3f2" stroke-width="1.1" points="127.5,578.0 133.8,577.0 140.0,578.0 146.2,576.8 151.2,579.2 156.2,577.0 165.0,576.2 172.0,575.0 174.5,579.2 182.5,577.5 192.5,577.5 198.8,580.0 201.8,582.5 206.2,580.0 213.8,580.8 218.8,578.2 221.2,579.5 224.2,576.5 232.5,576.2 236.2,577.5 239.5,575.5 242.5,577.5 250.0,577.0 260.0,577.8 272.5,577.0 281.2,580.0 290.0,577.0 300.0,575.8 314.5,575.0 316.2,578.0 327.5,578.8 337.5,577.5 343.8,578.2 351.2,575.5 359.5,574.5 361.2,578.2 372.5,578.2 381.2,577.0 390.0,578.0 402.5,577.0 412.5,578.0 418.8,576.8 423.8,580.5 428.8,580.5 431.2,578.0 440.0,576.2 450.0,574.5 463.8,575.0 465.5,578.0 477.5,578.0 487.5,578.8 495.0,579.2 502.5,577.5 520.0,577.5 537.5,578.0 554.8,578.2 567.5,578.0 581.2,576.8 588.8,580.8 597.5,578.8 607.5,580.5 613.8,580.0 617.5,578.0 630.0,577.5 642.5,577.0 657.5,575.8 667.5,575.5 680.0,575.5 687.5,577.0 696.2,576.2 702.5,577.5 707.5,576.5 717.5,579.2 725.0,577.8 730.0,578.0 737.5,576.5 750.0,575.8 758.8,575.0 761.2,578.2 770.0,578.8 778.8,579.0 785.0,577.2 790.0,578.5 802.5,578.0 820.0,576.8 835.0,577.0 850.0,576.2 853.8,578.2 862.5,577.5 868.8,576.5 871.2,578.2 877.5,578.0 883.8,575.5 891.2,577.5 898.2,582.5 903.8,577.5 915.0,574.5 930.0,573.0 945.0,570.5 955.0,568.8 962.5,567.5 966.2,564.2 968.8,568.8 975.0,568.0 980.0,568.8 986.2,568.8 988.2,577.5 994.8,577.0 1002.5,577.5 1010.0,576.8 1015.0,578.0 1022.5,578.0 1032.5,577.0 1040.0,578.8 1047.5,578.2 1056.2,576.5 1070.0,576.5 1075.0,578.2 1085.0,578.0 1096.2,576.8 1105.0,578.2 1117.5,576.8 1127.5,579.5 1137.5,578.0 1150.0,577.5 1165.0,577.5 1173.8,580.5 1182.5,580.0 1191.2,581.8 1197.5,579.5 1207.5,580.5 1212.5,581.2 1214.5,578.0 1222.5,577.0 1230.0,578.5 1242.5,577.5 1255.0,577.0 1267.5,578.8 1280.0,577.0 1290.0,575.8 1298.8,575.8 1302.5,578.2 1312.5,578.8 1322.5,577.0 1332.5,578.0 1345.0,576.8 1355.0,576.5 1362.5,578.0 1370.0,577.0 1381.2,577.5 1387.3,577.5 1388.4,577.3 1389.2,577.0 1390.2,576.8 1391.0,576.4 1391.5,576.2 1392.1,576.4 1392.9,576.6 1393.9,576.6 1394.9,576.4 1395.8,576.5 1396.8,576.2 1397.6,576.7 1398.3,576.7 1398.9,576.7 1399.8,576.7 1400.8,576.9 1401.8,577.0 1402.5,576.8 1403.1,576.7 1403.9,577.0 1404.6,577.4 1405.4,577.2 1406.3,577.1 1406.9,576.7 1407.4,577.2 1407.9,577.3 1408.8,576.9 1409.8,576.4 1410.7,576.4 1411.6,576.3 1412.5,576.3 1413.4,576.4 1414.2,576.4 1415.0,576.4 1415.6,576.5 1416.7,576.3 1417.8,576.6 1418.9,576.9 1420.4,577.2 1421.9,577.7 1423.1,577.5 1424.4,577.1 1425.6,577.3 1427.0,577.1 1428.0,577.5 1429.2,577.7 1430.3,578.1 1431.7,578.0 1433.0,577.7 1434.4,577.0 1435.8,577.0 1437.0,577.1 1438.1,576.6 1439.4,576.3 1440.5,576.6 1441.7,576.6 1443.3,576.5 1445.0,576.5 1446.0,576.5 1446.8,576.3 1447.7,576.4 1449.0,576.3 1450.2,576.0 1451.3,575.6 1452.6,575.7 1453.8,575.4 1455.0,575.5 1456.6,575.2 1458.1,575.2 1459.2,575.5 1460.6,575.7 1461.4,575.3 1462.7,575.1 1464.0,574.9 1465.1,575.3 1466.3,574.9 1467.6,574.6 1468.6,574.3 1469.8,574.4 1470.7,574.1 1471.8,574.6 1472.8,574.0 1474.1,573.9 1474.5,573.5 1475.3,573.3 1476.6,573.6 1477.7,572.8 1479.1,573.0 1480.2,572.9 1481.2,572.2 1482.6,572.2 1483.7,571.7 1485.0,572.0 1486.6,572.1 1488.0,572.2 1489.0,571.4 1489.9,571.3 1491.0,571.4 1492.3,571.0 1493.9,570.8 1495.0,570.5 1496.4,570.7 1497.4,570.4 1498.2,570.8 1499.2,571.4 1500.7,571.9 1502.2,571.7 1502.9,572.0 1503.7,571.6 1505.3,571.5 1506.5,571.1 1507.7,570.8 1509.0,570.7 1510.0,569.9 1511.2,569.7 1512.5,569.6 1513.3,570.0 1514.3,570.0 1515.7,570.0 1516.8,570.5 1518.4,570.2 1519.4,569.5 1520.3,569.8 1521.4,569.2 1522.7,569.3 1524.0,568.9 1525.1,568.8 1526.3,569.3 1527.6,568.8 1528.7,568.4 1529.8,567.8 1531.2,567.5 1532.3,567.2 1533.0,567.3 1533.7,567.2 1534.1,567.8 1534.7,567.1 1535.3,566.9 1536.1,566.7 1536.8,567.4 1537.5,568.2 1538.3,568.1 1539.0,568.5 1539.5,569.5 1540.3,569.1 1540.7,568.6 1541.8,568.7 1542.4,568.1 1542.9,568.4 1543.3,569.9 1543.7,571.4 1544.5,570.8 1545.3,571.0 1545.8,570.9 1546.8,570.0 1547.8,569.2 1548.8,568.6 1549.2,568.2 1549.8,568.5 1550.8,568.1 1552.1,568.3 1552.8,568.1 1553.9,568.2 1554.4,568.7 1555.5,568.4 1556.4,568.3 1556.7,569.6 1557.5,569.5 1558.6,569.8 1559.8,569.6 1560.6,568.9 1561.4,568.6 1562.4,568.3 1563.4,567.9 1564.8,568.0 1565.4,567.7 1565.9,568.2 1567.1,567.8 1568.1,567.5 1568.9,567.2 1569.9,566.4 1570.7,566.5 1571.9,566.2 1573.1,566.2 1574.2,566.5 1575.4,566.0 1576.6,565.6 1577.4,566.2 1578.5,566.7 1579.4,566.2 1579.9,565.6 1581.3,564.9 1582.3,564.9 1583.3,565.2 1584.0,565.7 1585.4,565.1 1586.5,565.0 1588.0,564.6 1589.3,564.6 1590.5,564.1 1590.8,563.7 1591.6,563.6 1592.3,563.3 1593.0,563.3 1593.5,563.1 1594.2,563.2 1595.0,562.8 1595.3,562.6 1595.3,562.6 1600.0,561.8 1604.0,561.5 1607.0,561.2 1609.5,562.3 1614.0,561.2 1618.0,560.8 1622.5,560.5 1626.0,562.8 1629.0,563.3 1631.5,564.7 1636.5,562.5 1640.0,563.5 1642.3,566.0 1644.0,564.0 1650.0,562.5 1654.0,561.5 1660.0,560.8 1666.0,560.2 1671.0,560.0 1677.0,558.8 1685.0,558.3"/>
<rect x="1387.2" y="551.2" width="208.1" height="39.0" fill="#ddf8f2"/>
<polygon fill="#cdebf3" points="1387.2,590.2 1387.3,577.5 1388.4,577.3 1389.2,577.0 1390.2,576.8 1391.0,576.4 1391.5,576.2 1392.1,576.4 1392.9,576.6 1393.9,576.6 1394.9,576.4 1395.8,576.5 1396.8,576.2 1397.6,576.7 1398.3,576.7 1398.9,576.7 1399.8,576.7 1400.8,576.9 1401.8,577.0 1402.5,576.8 1403.1,576.7 1403.9,577.0 1404.6,577.4 1405.4,577.2 1406.3,577.1 1406.9,576.7 1407.4,577.2 1407.9,577.3 1408.8,576.9 1409.8,576.4 1410.7,576.4 1411.6,576.3 1412.5,576.3 1413.4,576.4 1414.2,576.4 1415.0,576.4 1415.6,576.5 1416.7,576.3 1417.8,576.6 1418.9,576.9 1420.4,577.2 1421.9,577.7 1423.1,577.5 1424.4,577.1 1425.6,577.3 1427.0,577.1 1428.0,577.5 1429.2,577.7 1430.3,578.1 1431.7,578.0 1433.0,577.7 1434.4,577.0 1435.8,577.0 1437.0,577.1 1438.1,576.6 1439.4,576.3 1440.5,576.6 1441.7,576.6 1443.3,576.5 1445.0,576.5 1446.0,576.5 1446.8,576.3 1447.7,576.4 1449.0,576.3 1450.2,576.0 1451.3,575.6 1452.6,575.7 1453.8,575.4 1455.0,575.5 1456.6,575.2 1458.1,575.2 1459.2,575.5 1460.6,575.7 1461.4,575.3 1462.7,575.1 1464.0,574.9 1465.1,575.3 1466.3,574.9 1467.6,574.6 1468.6,574.3 1469.8,574.4 1470.7,574.1 1471.8,574.6 1472.8,574.0 1474.1,573.9 1474.5,573.5 1475.3,573.3 1476.6,573.6 1477.7,572.8 1479.1,573.0 1480.2,572.9 1481.2,572.2 1482.6,572.2 1483.7,571.7 1485.0,572.0 1486.6,572.1 1488.0,572.2 1489.0,571.4 1489.9,571.3 1491.0,571.4 1492.3,571.0 1493.9,570.8 1495.0,570.5 1496.4,570.7 1497.4,570.4 1498.2,570.8 1499.2,571.4 1500.7,571.9 1502.2,571.7 1502.9,572.0 1503.7,571.6 1505.3,571.5 1506.5,571.1 1507.7,570.8 1509.0,570.7 1510.0,569.9 1511.2,569.7 1512.5,569.6 1513.3,570.0 1514.3,570.0 1515.7,570.0 1516.8,570.5 1518.4,570.2 1519.4,569.5 1520.3,569.8 1521.4,569.2 1522.7,569.3 1524.0,568.9 1525.1,568.8 1526.3,569.3 1527.6,568.8 1528.7,568.4 1529.8,567.8 1531.2,567.5 1532.3,567.2 1533.0,567.3 1533.7,567.2 1534.1,567.8 1534.7,567.1 1535.3,566.9 1536.1,566.7 1536.8,567.4 1537.5,568.2 1538.3,568.1 1539.0,568.5 1539.5,569.5 1540.3,569.1 1540.7,568.6 1541.8,568.7 1542.4,568.1 1542.9,568.4 1543.3,569.9 1543.7,571.4 1544.5,570.8 1545.3,571.0 1545.8,570.9 1546.8,570.0 1547.8,569.2 1548.8,568.6 1549.2,568.2 1549.8,568.5 1550.8,568.1 1552.1,568.3 1552.8,568.1 1553.9,568.2 1554.4,568.7 1555.5,568.4 1556.4,568.3 1556.7,569.6 1557.5,569.5 1558.6,569.8 1559.8,569.6 1560.6,568.9 1561.4,568.6 1562.4,568.3 1563.4,567.9 1564.8,568.0 1565.4,567.7 1565.9,568.2 1567.1,567.8 1568.1,567.5 1568.9,567.2 1569.9,566.4 1570.7,566.5 1571.9,566.2 1573.1,566.2 1574.2,566.5 1575.4,566.0 1576.6,565.6 1577.4,566.2 1578.5,566.7 1579.4,566.2 1579.9,565.6 1581.3,564.9 1582.3,564.9 1583.3,565.2 1584.0,565.7 1585.4,565.1 1586.5,565.0 1588.0,564.6 1589.3,564.6 1590.5,564.1 1590.8,563.7 1591.6,563.6 1592.3,563.3 1593.0,563.3 1593.5,563.1 1594.2,563.2 1595.0,562.8 1595.3,562.6 1595.3,562.6 1595.3,590.2"/>
<polyline fill="none" stroke="#9fcfee" stroke-width="1.2" points="1387.3,577.5 1388.4,577.3 1389.2,577.0 1390.2,576.8 1391.0,576.4 1391.5,576.2 1392.1,576.4 1392.9,576.6 1393.9,576.6 1394.9,576.4 1395.8,576.5 1396.8,576.2 1397.6,576.7 1398.3,576.7 1398.9,576.7 1399.8,576.7 1400.8,576.9 1401.8,577.0 1402.5,576.8 1403.1,576.7 1403.9,577.0 1404.6,577.4 1405.4,577.2 1406.3,577.1 1406.9,576.7 1407.4,577.2 1407.9,577.3 1408.8,576.9 1409.8,576.4 1410.7,576.4 1411.6,576.3 1412.5,576.3 1413.4,576.4 1414.2,576.4 1415.0,576.4 1415.6,576.5 1416.7,576.3 1417.8,576.6 1418.9,576.9 1420.4,577.2 1421.9,577.7 1423.1,577.5 1424.4,577.1 1425.6,577.3 1427.0,577.1 1428.0,577.5 1429.2,577.7 1430.3,578.1 1431.7,578.0 1433.0,577.7 1434.4,577.0 1435.8,577.0 1437.0,577.1 1438.1,576.6 1439.4,576.3 1440.5,576.6 1441.7,576.6 1443.3,576.5 1445.0,576.5 1446.0,576.5 1446.8,576.3 1447.7,576.4 1449.0,576.3 1450.2,576.0 1451.3,575.6 1452.6,575.7 1453.8,575.4 1455.0,575.5 1456.6,575.2 1458.1,575.2 1459.2,575.5 1460.6,575.7 1461.4,575.3 1462.7,575.1 1464.0,574.9 1465.1,575.3 1466.3,574.9 1467.6,574.6 1468.6,574.3 1469.8,574.4 1470.7,574.1 1471.8,574.6 1472.8,574.0 1474.1,573.9 1474.5,573.5 1475.3,573.3 1476.6,573.6 1477.7,572.8 1479.1,573.0 1480.2,572.9 1481.2,572.2 1482.6,572.2 1483.7,571.7 1485.0,572.0 1486.6,572.1 1488.0,572.2 1489.0,571.4 1489.9,571.3 1491.0,571.4 1492.3,571.0 1493.9,570.8 1495.0,570.5 1496.4,570.7 1497.4,570.4 1498.2,570.8 1499.2,571.4 1500.7,571.9 1502.2,571.7 1502.9,572.0 1503.7,571.6 1505.3,571.5 1506.5,571.1 1507.7,570.8 1509.0,570.7 1510.0,569.9 1511.2,569.7 1512.5,569.6 1513.3,570.0 1514.3,570.0 1515.7,570.0 1516.8,570.5 1518.4,570.2 1519.4,569.5 1520.3,569.8 1521.4,569.2 1522.7,569.3 1524.0,568.9 1525.1,568.8 1526.3,569.3 1527.6,568.8 1528.7,568.4 1529.8,567.8 1531.2,567.5 1532.3,567.2 1533.0,567.3 1533.7,567.2 1534.1,567.8 1534.7,567.1 1535.3,566.9 1536.1,566.7 1536.8,567.4 1537.5,568.2 1538.3,568.1 1539.0,568.5 1539.5,569.5 1540.3,569.1 1540.7,568.6 1541.8,568.7 1542.4,568.1 1542.9,568.4 1543.3,569.9 1543.7,571.4 1544.5,570.8 1545.3,571.0 1545.8,570.9 1546.8,570.0 1547.8,569.2 1548.8,568.6 1549.2,568.2 1549.8,568.5 1550.8,568.1 1552.1,568.3 1552.8,568.1 1553.9,568.2 1554.4,568.7 1555.5,568.4 1556.4,568.3 1556.7,569.6 1557.5,569.5 1558.6,569.8 1559.8,569.6 1560.6,568.9 1561.4,568.6 1562.4,568.3 1563.4,567.9 1564.8,568.0 1565.4,567.7 1565.9,568.2 1567.1,567.8 1568.1,567.5 1568.9,567.2 1569.9,566.4 1570.7,566.5 1571.9,566.2 1573.1,566.2 1574.2,566.5 1575.4,566.0 1576.6,565.6 1577.4,566.2 1578.5,566.7 1579.4,566.2 1579.9,565.6 1581.3,564.9 1582.3,564.9 1583.3,565.2 1584.0,565.7 1585.4,565.1 1586.5,565.0 1588.0,564.6 1589.3,564.6 1590.5,564.1 1590.8,563.7 1591.6,563.6 1592.3,563.3 1593.0,563.3 1593.5,563.1 1594.2,563.2 1595.0,562.8 1595.3,562.6 1595.3,562.6"/>
</g>
<rect x="126.8" y="551.2" width="1558.8" height="39.0" rx="3.5" fill="none" stroke="#dadada" stroke-width="1.3"/>
<path d="M1386.3,551.2V544Q1386.3,542 1388.3,542H1594.6Q1596.6,542 1596.6,544V551.2Z" fill="#dde2f1"/>
<rect x="1487.6" y="544.3" width="1" height="4.3" fill="#ffffff"/>
<rect x="1490.8" y="544.3" width="1" height="4.3" fill="#ffffff"/>
<rect x="1494.0" y="544.3" width="1" height="4.3" fill="#ffffff"/>
<line x1="1387.2" y1="550.6" x2="1387.2" y2="590.6" stroke="#8fa3cf" stroke-width="1.2"/>
<line x1="1595.3" y1="550.6" x2="1595.3" y2="590.6" stroke="#8fa3cf" stroke-width="1.2"/>
<rect x="1382.9" y="558.2" width="8.6" height="25.2" rx="2.2" fill="#c9c9cb" stroke="#a6b2d4" stroke-width="1.1"/>
<rect x="1591.0" y="558.2" width="8.6" height="25.2" rx="2.2" fill="#c9c9cb" stroke="#a6b2d4" stroke-width="1.1"/>
<rect x="0" y="642.9" width="1759" height="1.1" fill="#e3e3e3"/>
</svg>
</body></html>
